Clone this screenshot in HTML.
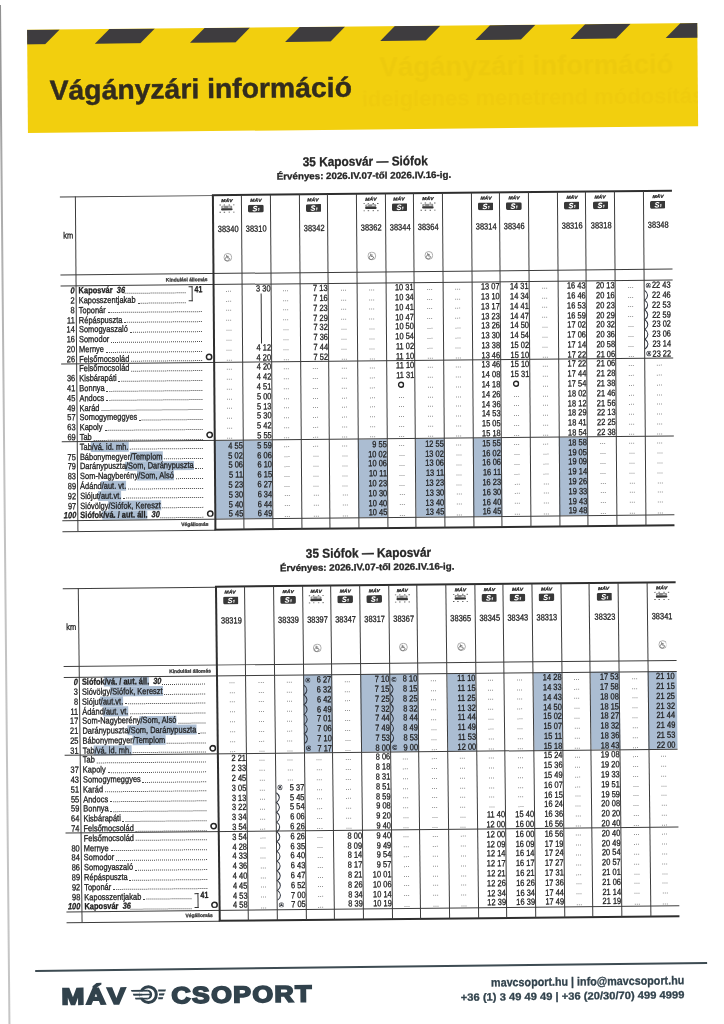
<!DOCTYPE html>
<html lang="hu"><head><meta charset="utf-8"><title>Vágányzári információ</title>
<style>
html,body{margin:0;padding:0;background:#fff}
body{width:724px;height:1024px;position:relative;overflow:hidden;font-family:"Liberation Sans",sans-serif;color:#2b2b2b}
.sec{position:absolute;left:0;top:0;transform-origin:0 0}
svg{position:absolute}
.c0{position:absolute;font-size:27.5px;line-height:33.00px;color:#322c1e;white-space:pre;font-weight:bold;-webkit-text-stroke:0.45px #322c1e;transform:scaleX(1.03);transform-origin:0 50%;}
.c1{position:absolute;font-size:27px;line-height:32.40px;color:rgba(190,140,0,0.07);white-space:pre;font-weight:bold;filter:blur(0.7px);transform:scaleX(1.02);transform-origin:0 50%;}
.c2{position:absolute;font-size:22px;line-height:26.40px;color:rgba(190,140,0,0.06);white-space:pre;font-weight:bold;filter:blur(0.7px);transform:scaleX(1.0);transform-origin:0 50%;}
.c3{position:absolute;background:#333;}
.c4{position:absolute;font-size:9.0px;line-height:10.80px;color:#222;white-space:pre;font-weight:bold;-webkit-text-stroke:0.3px #222;transform:scaleX(0.78);transform-origin:0 50%;}
.c5{position:absolute;background:#abbdd2;}
.c6{position:absolute;font-size:13px;line-height:15.60px;color:#262626;white-space:pre;font-weight:bold;-webkit-text-stroke:0.3px #262626;transform:scaleX(0.912);transform-origin:0 50%;}
.c7{position:absolute;font-size:9.4px;line-height:11.28px;color:#262626;white-space:pre;font-weight:bold;-webkit-text-stroke:0.3px #262626;transform:scaleX(1.04);transform-origin:0 50%;}
.c8{position:absolute;font-size:9.0px;line-height:10.80px;color:#222;white-space:pre;font-weight:bold;font-style:italic;-webkit-text-stroke:0.3px #222;width:100px;text-align:right;transform:scaleX(0.83);transform-origin:100% 50%;}
.c9{position:absolute;font-size:9.0px;line-height:10.80px;color:#222;white-space:pre;font-weight:bold;-webkit-text-stroke:0.3px #222;transform:scaleX(0.83);transform-origin:0 50%;}
.c10{position:absolute;font-size:9.0px;line-height:10.80px;color:#222;white-space:pre;font-weight:bold;font-style:italic;-webkit-text-stroke:0.3px #222;transform:scaleX(0.83);transform-origin:0 50%;}
.c11{position:absolute;font-size:9.0px;line-height:10.80px;color:#222;white-space:pre;-webkit-text-stroke:0.3px #222;width:100px;text-align:right;transform:scaleX(0.83);transform-origin:100% 50%;}
.c12{position:absolute;font-size:9.0px;line-height:10.80px;color:#222;white-space:pre;-webkit-text-stroke:0.3px #222;transform:scaleX(0.83);transform-origin:0 50%;}
.c13{position:absolute;font-size:4.2px;line-height:5.04px;color:#333;white-space:pre;font-weight:bold;font-style:italic;-webkit-text-stroke:0.3px #333;width:100px;text-align:center;transform:scaleX(1.2);transform-origin:50% 50%;}
.c14{position:absolute;font-size:9.0px;line-height:10.80px;color:#222;white-space:pre;-webkit-text-stroke:0.3px #222;width:100px;text-align:center;transform:scaleX(0.83);transform-origin:50% 50%;}
.c15{position:absolute;font-size:9px;line-height:10.80px;color:#6a6a6a;white-space:pre;width:100px;text-align:center;transform:scaleX(0.8);transform-origin:50% 50%;}
.c16{position:absolute;font-size:9px;line-height:10.80px;color:#222;white-space:pre;-webkit-text-stroke:0.3px #222;transform:scaleX(0.83);transform-origin:0 50%;}
.c17{position:absolute;font-size:5.0px;line-height:6.00px;color:#3a3a3a;white-space:pre;font-weight:bold;-webkit-text-stroke:0.3px #3a3a3a;width:400px;text-align:right;transform:scaleX(0.98);transform-origin:100% 50%;}
.c18{position:absolute;font-size:5.0px;line-height:6.00px;color:#3a3a3a;white-space:pre;font-weight:bold;-webkit-text-stroke:0.3px #3a3a3a;width:100px;text-align:right;transform:scaleX(0.98);transform-origin:100% 50%;}
.c19{position:absolute;background:#3c3c3c;}
.c20{position:absolute;background:#2e2e2e;}
.c21{position:absolute;background:#3d4b52;}
.c22{position:absolute;font-size:23px;line-height:27.60px;color:#31424c;white-space:pre;font-weight:bold;letter-spacing:1.2px;-webkit-text-stroke:1.7px #31424c;transform:scaleX(1.2);transform-origin:0 50%;}
.c23{position:absolute;font-size:23px;line-height:27.60px;color:#31424c;white-space:pre;font-weight:bold;letter-spacing:1.2px;-webkit-text-stroke:1.7px #31424c;transform:scaleX(1.157);transform-origin:0 50%;}
.c24{position:absolute;font-size:11.8px;line-height:14.16px;color:#31424c;white-space:pre;font-weight:bold;-webkit-text-stroke:0.3px #31424c;width:400px;text-align:right;transform:scaleX(0.911);transform-origin:100% 50%;}
.c25{position:absolute;font-size:10.5px;line-height:12.60px;color:#31424c;white-space:pre;font-weight:bold;-webkit-text-stroke:0.3px #31424c;width:400px;text-align:right;transform:scaleX(1.064);transform-origin:100% 50%;}
</style></head><body>
<div style="position:absolute;left:-1.2px;top:5px;width:2.4px;height:1030px;transform-origin:50% 0;transform:rotate(-0.53deg);background:linear-gradient(to bottom,#8f8f8f 0,#a8a8a8 15%,#c2c2c2 45%,#c6c6c6 100%);filter:blur(0.4px)"></div>
<div class="sec" style="width:670.0px;height:103.0px;background:#f2cf0e;overflow:hidden;transform:matrix(1.000299,-0.01,0.008737864,1.000971,27.05,29.8)">
<svg width="670.0" height="14.7" viewBox="0 0 670.0 14.7" style="position:absolute;left:0;top:0;display:block" fill="#3e3c3f"><polygon points="-27.8,14.7 -13.1,0.0 32.4,0.0 17.7,14.7"/><polygon points="67.4,14.7 82.1,0.0 127.6,0.0 112.9,14.7"/><polygon points="162.6,14.7 177.3,0.0 222.8,0.0 208.1,14.7"/><polygon points="257.8,14.7 272.5,0.0 318.0,0.0 303.3,14.7"/><polygon points="353.0,14.7 367.7,0.0 413.2,0.0 398.5,14.7"/><polygon points="448.2,14.7 462.9,0.0 508.4,0.0 493.7,14.7"/><polygon points="543.4,14.7 558.1,0.0 603.6,0.0 588.9,14.7"/><polygon points="638.6,14.7 653.3,0.0 698.8,0.0 684.1,14.7"/></svg>
<span class="c0" style="left:22.4px;top:44.37px">Vágányzári információ</span>
<span class="c1" style="left:352px;top:24.94px">Vágányzári információ</span>
<span class="c2" style="left:334px;top:60.18px">ideiglenes menetrend módosítás</span>
</div>
<div class="sec" style="width:612.0px;height:335.4px;transform:matrix(1.000082,-0.009640523,0.007602862,0.9988074,59.875,196.6)">
<div class="c5" style="left:153px;top:245.75px;width:28.69px;height:78.3px"></div>
<div class="c5" style="left:181.69px;top:245.75px;width:28.69px;height:78.3px"></div>
<div class="c5" style="left:296.45px;top:245.75px;width:28.69px;height:78.3px"></div>
<div class="c5" style="left:353.83px;top:245.75px;width:28.69px;height:78.3px"></div>
<div class="c5" style="left:411.21px;top:245.75px;width:28.69px;height:78.3px"></div>
<div class="c5" style="left:497.28px;top:245.75px;width:28.69px;height:78.3px"></div>
<span class="c6" style="left:242.6px;top:-40.3px">35 Kaposvár — Siófok</span>
<span class="c7" style="left:217.3px;top:-23.8px">Érvényes: 2026.IV.07-től 2026.IV.16-ig.</span>
<div class="c3" style="left:127.8px;top:91.3px;width:4.3px;height:0.9px"></div><div class="c3" style="left:131.3px;top:91.3px;width:0.9px;height:14.99px"></div><div class="c3" style="left:127.8px;top:105.39px;width:4.3px;height:0.9px"></div><span class="c4" style="left:133.6px;top:88.88px">41</span>
<span class="c8" style="left:-85.7px;top:89.18px">0</span>
<span class="c9" style="left:17.5px;top:89.18px">Kaposvár</span>
<span class="c10" style="left:51.55px;top:89.18px">  36</span>
<div style="position:absolute;left:64.31px;top:96.80px;width:60.69px;height:0;border-bottom:1px dotted #4a4a4a"></div>
<span class="c11" style="left:-85.7px;top:98.97px">2</span>
<span class="c12" style="left:17.5px;top:98.97px">Kaposszentjakab</span>
<div style="position:absolute;left:76.59px;top:106.59px;width:48.41px;height:0;border-bottom:1px dotted #4a4a4a"></div>
<span class="c11" style="left:-85.7px;top:108.76px">8</span>
<span class="c12" style="left:17.5px;top:108.76px">Toponár</span>
<div style="position:absolute;left:46.70px;top:116.37px;width:94.00px;height:0;border-bottom:1px dotted #4a4a4a"></div>
<span class="c11" style="left:-85.7px;top:118.54px">11</span>
<span class="c12" style="left:17.5px;top:118.54px">Répáspuszta</span>
<div style="position:absolute;left:63.30px;top:126.16px;width:77.40px;height:0;border-bottom:1px dotted #4a4a4a"></div>
<span class="c11" style="left:-85.7px;top:128.33px">14</span>
<span class="c12" style="left:17.5px;top:128.33px">Somogyaszaló</span>
<div style="position:absolute;left:68.70px;top:135.95px;width:72.00px;height:0;border-bottom:1px dotted #4a4a4a"></div>
<span class="c11" style="left:-85.7px;top:138.12px">16</span>
<span class="c12" style="left:17.5px;top:138.12px">Somodor</span>
<div style="position:absolute;left:50.01px;top:145.73px;width:90.69px;height:0;border-bottom:1px dotted #4a4a4a"></div>
<span class="c11" style="left:-85.7px;top:147.9px">20</span>
<span class="c12" style="left:17.5px;top:147.9px">Mernye</span>
<div style="position:absolute;left:44.61px;top:155.52px;width:96.09px;height:0;border-bottom:1px dotted #4a4a4a"></div>
<span class="c11" style="left:-85.7px;top:157.69px">26</span>
<span class="c12" style="left:17.5px;top:157.69px">Felsőmocsolád</span>
<div style="position:absolute;left:69.94px;top:165.31px;width:70.76px;height:0;border-bottom:1px dotted #4a4a4a"></div>
<svg style="position:absolute;left:143.65px;top:157.96px" width="7.90" height="7.90" viewBox="0 0 7.90 7.90"><circle cx="3.95" cy="3.95" r="2.68" fill="none" stroke="#262626" stroke-width="1.55"/></svg>
<span class="c12" style="left:17.5px;top:167.48px">Felsőmocsolád</span>
<div style="position:absolute;left:69.94px;top:175.10px;width:70.76px;height:0;border-bottom:1px dotted #4a4a4a"></div>
<span class="c11" style="left:-85.7px;top:177.26px">36</span>
<span class="c12" style="left:17.5px;top:177.26px">Kisbárapáti</span>
<div style="position:absolute;left:57.07px;top:184.88px;width:83.63px;height:0;border-bottom:1px dotted #4a4a4a"></div>
<span class="c11" style="left:-85.7px;top:187.05px">41</span>
<span class="c12" style="left:17.5px;top:187.05px">Bonnya</span>
<div style="position:absolute;left:45.04px;top:194.67px;width:95.66px;height:0;border-bottom:1px dotted #4a4a4a"></div>
<span class="c11" style="left:-85.7px;top:196.84px">45</span>
<span class="c12" style="left:17.5px;top:196.84px">Andocs</span>
<div style="position:absolute;left:44.62px;top:204.46px;width:96.08px;height:0;border-bottom:1px dotted #4a4a4a"></div>
<span class="c11" style="left:-85.7px;top:206.63px">49</span>
<span class="c12" style="left:17.5px;top:206.63px">Karád</span>
<div style="position:absolute;left:39.63px;top:214.24px;width:101.07px;height:0;border-bottom:1px dotted #4a4a4a"></div>
<span class="c11" style="left:-85.7px;top:216.41px">57</span>
<span class="c12" style="left:17.5px;top:216.41px">Somogymeggyes</span>
<div style="position:absolute;left:77.42px;top:224.03px;width:63.28px;height:0;border-bottom:1px dotted #4a4a4a"></div>
<span class="c11" style="left:-85.7px;top:226.2px">63</span>
<span class="c12" style="left:17.5px;top:226.2px">Kapoly</span>
<div style="position:absolute;left:42.54px;top:233.82px;width:98.16px;height:0;border-bottom:1px dotted #4a4a4a"></div>
<span class="c11" style="left:-85.7px;top:235.99px">69</span>
<span class="c12" style="left:17.5px;top:235.99px">Tab</span>
<div style="position:absolute;left:31.74px;top:243.60px;width:108.96px;height:0;border-bottom:1px dotted #4a4a4a"></div>
<svg style="position:absolute;left:143.65px;top:236.25px" width="7.90" height="7.90" viewBox="0 0 7.90 7.90"><circle cx="3.95" cy="3.95" r="2.68" fill="none" stroke="#262626" stroke-width="1.55"/></svg>
<div class="c5" style="left:29.34px;top:246.06px;width:37.33px;height:9.79px"></div>
<span class="c12" style="left:17.5px;top:245.77px">Tab/vá. id. mh.</span>
<div style="position:absolute;left:68.28px;top:253.39px;width:72.42px;height:0;border-bottom:1px dotted #4a4a4a"></div>
<span class="c11" style="left:-85.7px;top:255.56px">75</span>
<div class="c5" style="left:67.55px;top:255.84px;width:33.18px;height:9.79px"></div>
<span class="c12" style="left:17.5px;top:255.56px">Bábonymegyer/Templom</span>
<div style="position:absolute;left:102.33px;top:263.18px;width:38.37px;height:0;border-bottom:1px dotted #4a4a4a"></div>
<span class="c11" style="left:-85.7px;top:265.35px">79</span>
<div class="c5" style="left:63.39px;top:265.63px;width:68.48px;height:9.79px"></div>
<span class="c12" style="left:17.5px;top:265.35px">Daránypuszta/Som, Daránypuszta</span>
<div style="position:absolute;left:133.47px;top:272.97px;width:7.23px;height:0;border-bottom:1px dotted #4a4a4a"></div>
<span class="c11" style="left:-85.7px;top:275.13px">83</span>
<div class="c5" style="left:75.43px;top:275.42px;width:36.51px;height:9.79px"></div>
<span class="c12" style="left:17.5px;top:275.13px">Som-Nagyberény/Som, Alsó</span>
<div style="position:absolute;left:113.53px;top:282.75px;width:27.17px;height:0;border-bottom:1px dotted #4a4a4a"></div>
<span class="c11" style="left:-85.7px;top:284.92px">89</span>
<div class="c5" style="left:38.9px;top:285.2px;width:25.3px;height:9.79px"></div>
<span class="c12" style="left:17.5px;top:284.92px">Ádánd/aut. vt.</span>
<div style="position:absolute;left:65.80px;top:292.54px;width:74.90px;height:0;border-bottom:1px dotted #4a4a4a"></div>
<span class="c11" style="left:-85.7px;top:294.71px">92</span>
<div class="c5" style="left:35.99px;top:294.99px;width:23.22px;height:9.79px"></div>
<span class="c12" style="left:17.5px;top:294.71px">Siójut/aut.vt.</span>
<div style="position:absolute;left:60.81px;top:302.33px;width:79.89px;height:0;border-bottom:1px dotted #4a4a4a"></div>
<span class="c11" style="left:-85.7px;top:304.5px">97</span>
<div class="c5" style="left:45.54px;top:304.78px;width:53.11px;height:9.79px"></div>
<span class="c12" style="left:17.5px;top:304.5px">Sióvölgy/Siófok, Kereszt</span>
<div style="position:absolute;left:100.25px;top:312.11px;width:40.45px;height:0;border-bottom:1px dotted #4a4a4a"></div>
<span class="c8" style="left:-85.7px;top:314.28px">100</span>
<div class="c5" style="left:40.13px;top:314.56px;width:45.22px;height:9.79px"></div>
<span class="c9" style="left:17.5px;top:314.28px">Siófok/vá. / aut. áll.</span>
<span class="c10" style="left:84.75px;top:314.28px">  30</span>
<div style="position:absolute;left:97.51px;top:321.90px;width:43.19px;height:0;border-bottom:1px dotted #4a4a4a"></div>
<svg style="position:absolute;left:143.65px;top:314.55px" width="7.90" height="7.90" viewBox="0 0 7.90 7.90"><circle cx="3.95" cy="3.95" r="2.68" fill="none" stroke="#262626" stroke-width="1.55"/></svg>
<span class="c13" style="left:117.34px;top:2.77px">MÁV</span>
<svg style="left:159.34px;top:9.4px" width="16" height="9" viewBox="0 0 16 9"><g fill="#5a5a5a"><rect x="0.5" y="0.55" width="1.4" height="0.9"/><rect x="4.7" y="0.55" width="1.4" height="0.9"/><rect x="9.6" y="0.55" width="1.4" height="0.9"/><rect x="14.1" y="0.55" width="1.4" height="0.9"/><rect x="0.5" y="7.75" width="1.4" height="0.9"/><rect x="4.7" y="7.75" width="1.4" height="0.9"/><rect x="9.6" y="7.75" width="1.4" height="0.9"/><rect x="14.1" y="7.75" width="1.4" height="0.9"/></g><rect x="2.3" y="1.8" width="10.9" height="2.6" rx="0.9" fill="#8c8c8c"/><rect x="3.6" y="2.5" width="1.6" height="1.2" fill="#e4e4e4"/><rect x="9.0" y="2.5" width="2.6" height="1.2" fill="#d8d8d8"/><rect x="2.1" y="4.2" width="11.5" height="2.2" rx="1.0" fill="#383838"/></svg>
<svg style="left:163.2px;top:58.35px" width="8.9" height="8.9" viewBox="0 0 8.4 8.4"><circle cx="4.2" cy="4.2" r="3.7" fill="none" stroke="#808080" stroke-width="0.6"/><path d="M3.1 2.0 L3.3 4.6 L5.2 4.6 L6.1 6.3 M3.3 3.3 L5 3.3" fill="none" stroke="#6a6a6a" stroke-width="0.8"/><path d="M2.9 3.9 A1.9 1.9 0 1 0 5.4 6.0" fill="none" stroke="#6a6a6a" stroke-width="0.7"/></svg>
<span class="c14" style="left:117.54px;top:29.18px">38340</span>
<span class="c15" style="left:117.94px;top:88.88px">...</span>
<span class="c15" style="left:117.94px;top:98.67px">...</span>
<span class="c15" style="left:117.94px;top:108.46px">...</span>
<span class="c15" style="left:117.94px;top:118.24px">...</span>
<span class="c15" style="left:117.94px;top:128.03px">...</span>
<span class="c15" style="left:117.94px;top:137.82px">...</span>
<span class="c15" style="left:117.94px;top:147.6px">...</span>
<span class="c15" style="left:117.94px;top:158.19px">...</span>
<span class="c15" style="left:117.94px;top:167.18px">...</span>
<span class="c15" style="left:117.94px;top:176.96px">...</span>
<span class="c15" style="left:117.94px;top:186.75px">...</span>
<span class="c15" style="left:117.94px;top:196.54px">...</span>
<span class="c15" style="left:117.94px;top:206.33px">...</span>
<span class="c15" style="left:117.94px;top:216.11px">...</span>
<span class="c15" style="left:117.94px;top:225.9px">...</span>
<span class="c15" style="left:117.94px;top:236.49px">...</span>
<span class="c11" style="left:81.19px;top:245.77px">4 55</span>
<span class="c11" style="left:81.19px;top:255.56px">5 02</span>
<span class="c11" style="left:81.19px;top:265.35px">5 06</span>
<span class="c11" style="left:81.19px;top:275.13px">5 11</span>
<span class="c11" style="left:81.19px;top:284.92px">5 23</span>
<span class="c11" style="left:81.19px;top:294.71px">5 30</span>
<span class="c11" style="left:81.19px;top:304.5px">5 40</span>
<span class="c11" style="left:81.19px;top:314.28px">5 45</span>
<span class="c13" style="left:146.03px;top:2.77px">MÁV</span>
<svg style="left:188.23px;top:10px" width="15.6" height="7.8" viewBox="0 0 15.6 7.8"><rect width="15.6" height="7.8" rx="1.5" fill="#383838"/><g transform="skewX(-12)" fill="none" stroke="#fff"><path d="M9.6 2.55 C8.9 1.3 6.2 1.45 6.3 2.9 C6.4 4.3 9.7 3.6 9.7 5.1 C9.7 6.6 6.6 6.6 6.0 5.2" stroke-width="1.15"/><path d="M10.9 4.3 L11.9 3.6 V6.3" stroke-width="0.8"/></g></svg>
<span class="c14" style="left:146.23px;top:29.18px">38310</span>
<span class="c11" style="left:109.88px;top:89.18px">3 30</span>
<span class="c11" style="left:109.88px;top:147.9px">4 12</span>
<span class="c11" style="left:109.88px;top:157.69px">4 20</span>
<span class="c11" style="left:109.88px;top:167.48px">4 20</span>
<span class="c11" style="left:109.88px;top:177.26px">4 42</span>
<span class="c11" style="left:109.88px;top:187.05px">4 51</span>
<span class="c11" style="left:109.88px;top:196.84px">5 00</span>
<span class="c11" style="left:109.88px;top:206.63px">5 13</span>
<span class="c11" style="left:109.88px;top:216.41px">5 30</span>
<span class="c11" style="left:109.88px;top:226.2px">5 42</span>
<span class="c11" style="left:109.88px;top:235.99px">5 55</span>
<span class="c11" style="left:109.88px;top:245.77px">5 59</span>
<span class="c11" style="left:109.88px;top:255.56px">6 06</span>
<span class="c11" style="left:109.88px;top:265.35px">6 10</span>
<span class="c11" style="left:109.88px;top:275.13px">6 15</span>
<span class="c11" style="left:109.88px;top:284.92px">6 27</span>
<span class="c11" style="left:109.88px;top:294.71px">6 34</span>
<span class="c11" style="left:109.88px;top:304.5px">6 44</span>
<span class="c11" style="left:109.88px;top:314.28px">6 49</span>
<div class="c3" style="left:199.84px;top:98.7px;width:0.9px;height:50.72px"></div>
<span class="c15" style="left:175.32px;top:88.88px">...</span>
<span class="c15" style="left:175.32px;top:98.67px">...</span>
<span class="c15" style="left:175.32px;top:108.46px">...</span>
<span class="c15" style="left:175.32px;top:118.24px">...</span>
<span class="c15" style="left:175.32px;top:128.03px">...</span>
<span class="c15" style="left:175.32px;top:137.82px">...</span>
<span class="c15" style="left:175.32px;top:147.6px">...</span>
<span class="c15" style="left:175.32px;top:158.19px">...</span>
<span class="c15" style="left:175.32px;top:167.18px">...</span>
<span class="c15" style="left:175.32px;top:176.96px">...</span>
<span class="c15" style="left:175.32px;top:186.75px">...</span>
<span class="c15" style="left:175.32px;top:196.54px">...</span>
<span class="c15" style="left:175.32px;top:206.33px">...</span>
<span class="c15" style="left:175.32px;top:216.11px">...</span>
<span class="c15" style="left:175.32px;top:225.9px">...</span>
<span class="c15" style="left:175.32px;top:236.49px">...</span>
<span class="c15" style="left:175.32px;top:245.47px">...</span>
<span class="c15" style="left:175.32px;top:255.26px">...</span>
<span class="c15" style="left:175.32px;top:265.05px">...</span>
<span class="c15" style="left:175.32px;top:274.83px">...</span>
<span class="c15" style="left:175.32px;top:284.62px">...</span>
<span class="c15" style="left:175.32px;top:294.41px">...</span>
<span class="c15" style="left:175.32px;top:304.2px">...</span>
<span class="c15" style="left:175.32px;top:314.78px">...</span>
<span class="c13" style="left:203.41px;top:2.77px">MÁV</span>
<svg style="left:245.61px;top:10px" width="15.6" height="7.8" viewBox="0 0 15.6 7.8"><rect width="15.6" height="7.8" rx="1.5" fill="#383838"/><g transform="skewX(-12)" fill="none" stroke="#fff"><path d="M9.6 2.55 C8.9 1.3 6.2 1.45 6.3 2.9 C6.4 4.3 9.7 3.6 9.7 5.1 C9.7 6.6 6.6 6.6 6.0 5.2" stroke-width="1.15"/><path d="M10.9 4.3 L11.9 3.6 V6.3" stroke-width="0.8"/></g></svg>
<span class="c14" style="left:203.61px;top:29.18px">38342</span>
<span class="c11" style="left:167.26px;top:89.18px">7 13</span>
<span class="c11" style="left:167.26px;top:98.97px">7 16</span>
<span class="c11" style="left:167.26px;top:108.76px">7 23</span>
<span class="c11" style="left:167.26px;top:118.54px">7 29</span>
<span class="c11" style="left:167.26px;top:128.33px">7 32</span>
<span class="c11" style="left:167.26px;top:138.12px">7 36</span>
<span class="c11" style="left:167.26px;top:147.9px">7 44</span>
<span class="c11" style="left:167.26px;top:157.69px">7 52</span>
<span class="c15" style="left:204.01px;top:167.18px">...</span>
<span class="c15" style="left:204.01px;top:176.96px">...</span>
<span class="c15" style="left:204.01px;top:186.75px">...</span>
<span class="c15" style="left:204.01px;top:196.54px">...</span>
<span class="c15" style="left:204.01px;top:206.33px">...</span>
<span class="c15" style="left:204.01px;top:216.11px">...</span>
<span class="c15" style="left:204.01px;top:225.9px">...</span>
<span class="c15" style="left:204.01px;top:236.49px">...</span>
<span class="c15" style="left:204.01px;top:245.47px">...</span>
<span class="c15" style="left:204.01px;top:255.26px">...</span>
<span class="c15" style="left:204.01px;top:265.05px">...</span>
<span class="c15" style="left:204.01px;top:274.83px">...</span>
<span class="c15" style="left:204.01px;top:284.62px">...</span>
<span class="c15" style="left:204.01px;top:294.41px">...</span>
<span class="c15" style="left:204.01px;top:304.2px">...</span>
<span class="c15" style="left:204.01px;top:314.78px">...</span>
<span class="c15" style="left:232.71px;top:88.88px">...</span>
<span class="c15" style="left:232.71px;top:98.67px">...</span>
<span class="c15" style="left:232.71px;top:108.46px">...</span>
<span class="c15" style="left:232.71px;top:118.24px">...</span>
<span class="c15" style="left:232.71px;top:128.03px">...</span>
<span class="c15" style="left:232.71px;top:137.82px">...</span>
<span class="c15" style="left:232.71px;top:147.6px">...</span>
<span class="c15" style="left:232.71px;top:158.19px">...</span>
<span class="c15" style="left:232.71px;top:167.18px">...</span>
<span class="c15" style="left:232.71px;top:176.96px">...</span>
<span class="c15" style="left:232.71px;top:186.75px">...</span>
<span class="c15" style="left:232.71px;top:196.54px">...</span>
<span class="c15" style="left:232.71px;top:206.33px">...</span>
<span class="c15" style="left:232.71px;top:216.11px">...</span>
<span class="c15" style="left:232.71px;top:225.9px">...</span>
<span class="c15" style="left:232.71px;top:236.49px">...</span>
<span class="c15" style="left:232.71px;top:245.47px">...</span>
<span class="c15" style="left:232.71px;top:255.26px">...</span>
<span class="c15" style="left:232.71px;top:265.05px">...</span>
<span class="c15" style="left:232.71px;top:274.83px">...</span>
<span class="c15" style="left:232.71px;top:284.62px">...</span>
<span class="c15" style="left:232.71px;top:294.41px">...</span>
<span class="c15" style="left:232.71px;top:304.2px">...</span>
<span class="c15" style="left:232.71px;top:314.78px">...</span>
<span class="c13" style="left:260.8px;top:2.77px">MÁV</span>
<svg style="left:302.8px;top:9.4px" width="16" height="9" viewBox="0 0 16 9"><g fill="#5a5a5a"><rect x="0.5" y="0.55" width="1.4" height="0.9"/><rect x="4.7" y="0.55" width="1.4" height="0.9"/><rect x="9.6" y="0.55" width="1.4" height="0.9"/><rect x="14.1" y="0.55" width="1.4" height="0.9"/><rect x="0.5" y="7.75" width="1.4" height="0.9"/><rect x="4.7" y="7.75" width="1.4" height="0.9"/><rect x="9.6" y="7.75" width="1.4" height="0.9"/><rect x="14.1" y="7.75" width="1.4" height="0.9"/></g><rect x="2.3" y="1.8" width="10.9" height="2.6" rx="0.9" fill="#8c8c8c"/><rect x="3.6" y="2.5" width="1.6" height="1.2" fill="#e4e4e4"/><rect x="9.0" y="2.5" width="2.6" height="1.2" fill="#d8d8d8"/><rect x="2.1" y="4.2" width="11.5" height="2.2" rx="1.0" fill="#383838"/></svg>
<svg style="left:306.65px;top:58.35px" width="8.9" height="8.9" viewBox="0 0 8.4 8.4"><circle cx="4.2" cy="4.2" r="3.7" fill="none" stroke="#808080" stroke-width="0.6"/><path d="M3.1 2.0 L3.3 4.6 L5.2 4.6 L6.1 6.3 M3.3 3.3 L5 3.3" fill="none" stroke="#6a6a6a" stroke-width="0.8"/><path d="M2.9 3.9 A1.9 1.9 0 1 0 5.4 6.0" fill="none" stroke="#6a6a6a" stroke-width="0.7"/></svg>
<span class="c14" style="left:261px;top:29.18px">38362</span>
<span class="c15" style="left:261.4px;top:88.88px">...</span>
<span class="c15" style="left:261.4px;top:98.67px">...</span>
<span class="c15" style="left:261.4px;top:108.46px">...</span>
<span class="c15" style="left:261.4px;top:118.24px">...</span>
<span class="c15" style="left:261.4px;top:128.03px">...</span>
<span class="c15" style="left:261.4px;top:137.82px">...</span>
<span class="c15" style="left:261.4px;top:147.6px">...</span>
<span class="c15" style="left:261.4px;top:158.19px">...</span>
<span class="c15" style="left:261.4px;top:167.18px">...</span>
<span class="c15" style="left:261.4px;top:176.96px">...</span>
<span class="c15" style="left:261.4px;top:186.75px">...</span>
<span class="c15" style="left:261.4px;top:196.54px">...</span>
<span class="c15" style="left:261.4px;top:206.33px">...</span>
<span class="c15" style="left:261.4px;top:216.11px">...</span>
<span class="c15" style="left:261.4px;top:225.9px">...</span>
<span class="c15" style="left:261.4px;top:236.49px">...</span>
<span class="c11" style="left:224.64px;top:245.77px">9 55</span>
<span class="c11" style="left:224.64px;top:255.56px">10 02</span>
<span class="c11" style="left:224.64px;top:265.35px">10 06</span>
<span class="c11" style="left:224.64px;top:275.13px">10 11</span>
<span class="c11" style="left:224.64px;top:284.92px">10 23</span>
<span class="c11" style="left:224.64px;top:294.71px">10 30</span>
<span class="c11" style="left:224.64px;top:304.5px">10 40</span>
<span class="c11" style="left:224.64px;top:314.28px">10 45</span>
<span class="c13" style="left:289.49px;top:2.77px">MÁV</span>
<svg style="left:331.69px;top:10px" width="15.6" height="7.8" viewBox="0 0 15.6 7.8"><rect width="15.6" height="7.8" rx="1.5" fill="#383838"/><g transform="skewX(-12)" fill="none" stroke="#fff"><path d="M9.6 2.55 C8.9 1.3 6.2 1.45 6.3 2.9 C6.4 4.3 9.7 3.6 9.7 5.1 C9.7 6.6 6.6 6.6 6.0 5.2" stroke-width="1.15"/><path d="M10.9 4.3 L11.9 3.6 V6.3" stroke-width="0.8"/></g></svg>
<span class="c14" style="left:289.69px;top:29.18px">38344</span>
<span class="c11" style="left:253.33px;top:89.18px">10 31</span>
<span class="c11" style="left:253.33px;top:98.97px">10 34</span>
<span class="c11" style="left:253.33px;top:108.76px">10 41</span>
<span class="c11" style="left:253.33px;top:118.54px">10 47</span>
<span class="c11" style="left:253.33px;top:128.33px">10 50</span>
<span class="c11" style="left:253.33px;top:138.12px">10 54</span>
<span class="c11" style="left:253.33px;top:147.9px">11 02</span>
<span class="c11" style="left:253.33px;top:157.69px">11 10</span>
<span class="c11" style="left:253.33px;top:167.48px">11 10</span>
<span class="c11" style="left:253.33px;top:177.26px">11 31</span>
<svg style="position:absolute;left:336.09px;top:187.67px" width="7.40" height="7.40" viewBox="0 0 7.40 7.40"><circle cx="3.70" cy="3.70" r="2.50" fill="none" stroke="#262626" stroke-width="1.4"/></svg>
<span class="c15" style="left:290.09px;top:196.54px">...</span>
<span class="c15" style="left:290.09px;top:206.33px">...</span>
<span class="c15" style="left:290.09px;top:216.11px">...</span>
<span class="c15" style="left:290.09px;top:225.9px">...</span>
<span class="c15" style="left:290.09px;top:236.49px">...</span>
<span class="c15" style="left:290.09px;top:245.47px">...</span>
<span class="c15" style="left:290.09px;top:255.26px">...</span>
<span class="c15" style="left:290.09px;top:265.05px">...</span>
<span class="c15" style="left:290.09px;top:274.83px">...</span>
<span class="c15" style="left:290.09px;top:284.62px">...</span>
<span class="c15" style="left:290.09px;top:294.41px">...</span>
<span class="c15" style="left:290.09px;top:304.2px">...</span>
<span class="c15" style="left:290.09px;top:314.78px">...</span>
<span class="c13" style="left:318.18px;top:2.77px">MÁV</span>
<svg style="left:360.18px;top:9.4px" width="16" height="9" viewBox="0 0 16 9"><g fill="#5a5a5a"><rect x="0.5" y="0.55" width="1.4" height="0.9"/><rect x="4.7" y="0.55" width="1.4" height="0.9"/><rect x="9.6" y="0.55" width="1.4" height="0.9"/><rect x="14.1" y="0.55" width="1.4" height="0.9"/><rect x="0.5" y="7.75" width="1.4" height="0.9"/><rect x="4.7" y="7.75" width="1.4" height="0.9"/><rect x="9.6" y="7.75" width="1.4" height="0.9"/><rect x="14.1" y="7.75" width="1.4" height="0.9"/></g><rect x="2.3" y="1.8" width="10.9" height="2.6" rx="0.9" fill="#8c8c8c"/><rect x="3.6" y="2.5" width="1.6" height="1.2" fill="#e4e4e4"/><rect x="9.0" y="2.5" width="2.6" height="1.2" fill="#d8d8d8"/><rect x="2.1" y="4.2" width="11.5" height="2.2" rx="1.0" fill="#383838"/></svg>
<svg style="left:364.03px;top:58.35px" width="8.9" height="8.9" viewBox="0 0 8.4 8.4"><circle cx="4.2" cy="4.2" r="3.7" fill="none" stroke="#808080" stroke-width="0.6"/><path d="M3.1 2.0 L3.3 4.6 L5.2 4.6 L6.1 6.3 M3.3 3.3 L5 3.3" fill="none" stroke="#6a6a6a" stroke-width="0.8"/><path d="M2.9 3.9 A1.9 1.9 0 1 0 5.4 6.0" fill="none" stroke="#6a6a6a" stroke-width="0.7"/></svg>
<span class="c14" style="left:318.38px;top:29.18px">38364</span>
<span class="c15" style="left:318.78px;top:88.88px">...</span>
<span class="c15" style="left:318.78px;top:98.67px">...</span>
<span class="c15" style="left:318.78px;top:108.46px">...</span>
<span class="c15" style="left:318.78px;top:118.24px">...</span>
<span class="c15" style="left:318.78px;top:128.03px">...</span>
<span class="c15" style="left:318.78px;top:137.82px">...</span>
<span class="c15" style="left:318.78px;top:147.6px">...</span>
<span class="c15" style="left:318.78px;top:158.19px">...</span>
<span class="c15" style="left:318.78px;top:167.18px">...</span>
<span class="c15" style="left:318.78px;top:176.96px">...</span>
<span class="c15" style="left:318.78px;top:186.75px">...</span>
<span class="c15" style="left:318.78px;top:196.54px">...</span>
<span class="c15" style="left:318.78px;top:206.33px">...</span>
<span class="c15" style="left:318.78px;top:216.11px">...</span>
<span class="c15" style="left:318.78px;top:225.9px">...</span>
<span class="c15" style="left:318.78px;top:236.49px">...</span>
<span class="c11" style="left:282.02px;top:245.77px">12 55</span>
<span class="c11" style="left:282.02px;top:255.56px">13 02</span>
<span class="c11" style="left:282.02px;top:265.35px">13 06</span>
<span class="c11" style="left:282.02px;top:275.13px">13 11</span>
<span class="c11" style="left:282.02px;top:284.92px">13 23</span>
<span class="c11" style="left:282.02px;top:294.71px">13 30</span>
<span class="c11" style="left:282.02px;top:304.5px">13 40</span>
<span class="c11" style="left:282.02px;top:314.28px">13 45</span>
<span class="c15" style="left:347.47px;top:88.88px">...</span>
<span class="c15" style="left:347.47px;top:98.67px">...</span>
<span class="c15" style="left:347.47px;top:108.46px">...</span>
<span class="c15" style="left:347.47px;top:118.24px">...</span>
<span class="c15" style="left:347.47px;top:128.03px">...</span>
<span class="c15" style="left:347.47px;top:137.82px">...</span>
<span class="c15" style="left:347.47px;top:147.6px">...</span>
<span class="c15" style="left:347.47px;top:158.19px">...</span>
<span class="c15" style="left:347.47px;top:167.18px">...</span>
<span class="c15" style="left:347.47px;top:176.96px">...</span>
<span class="c15" style="left:347.47px;top:186.75px">...</span>
<span class="c15" style="left:347.47px;top:196.54px">...</span>
<span class="c15" style="left:347.47px;top:206.33px">...</span>
<span class="c15" style="left:347.47px;top:216.11px">...</span>
<span class="c15" style="left:347.47px;top:225.9px">...</span>
<span class="c15" style="left:347.47px;top:236.49px">...</span>
<span class="c15" style="left:347.47px;top:245.47px">...</span>
<span class="c15" style="left:347.47px;top:255.26px">...</span>
<span class="c15" style="left:347.47px;top:265.05px">...</span>
<span class="c15" style="left:347.47px;top:274.83px">...</span>
<span class="c15" style="left:347.47px;top:284.62px">...</span>
<span class="c15" style="left:347.47px;top:294.41px">...</span>
<span class="c15" style="left:347.47px;top:304.2px">...</span>
<span class="c15" style="left:347.47px;top:314.78px">...</span>
<span class="c13" style="left:375.56px;top:2.77px">MÁV</span>
<svg style="left:417.76px;top:10px" width="15.6" height="7.8" viewBox="0 0 15.6 7.8"><rect width="15.6" height="7.8" rx="1.5" fill="#383838"/><g transform="skewX(-12)" fill="none" stroke="#fff"><path d="M9.6 2.55 C8.9 1.3 6.2 1.45 6.3 2.9 C6.4 4.3 9.7 3.6 9.7 5.1 C9.7 6.6 6.6 6.6 6.0 5.2" stroke-width="1.15"/><path d="M10.9 4.3 L11.9 3.6 V6.3" stroke-width="0.8"/></g></svg>
<span class="c14" style="left:375.76px;top:29.18px">38314</span>
<span class="c11" style="left:339.4px;top:89.18px">13 07</span>
<span class="c11" style="left:339.4px;top:98.97px">13 10</span>
<span class="c11" style="left:339.4px;top:108.76px">13 17</span>
<span class="c11" style="left:339.4px;top:118.54px">13 23</span>
<span class="c11" style="left:339.4px;top:128.33px">13 26</span>
<span class="c11" style="left:339.4px;top:138.12px">13 30</span>
<span class="c11" style="left:339.4px;top:147.9px">13 38</span>
<span class="c11" style="left:339.4px;top:157.69px">13 46</span>
<span class="c11" style="left:339.4px;top:167.48px">13 46</span>
<span class="c11" style="left:339.4px;top:177.26px">14 08</span>
<span class="c11" style="left:339.4px;top:187.05px">14 18</span>
<span class="c11" style="left:339.4px;top:196.84px">14 26</span>
<span class="c11" style="left:339.4px;top:206.63px">14 36</span>
<span class="c11" style="left:339.4px;top:216.41px">14 53</span>
<span class="c11" style="left:339.4px;top:226.2px">15 05</span>
<span class="c11" style="left:339.4px;top:235.99px">15 18</span>
<span class="c11" style="left:339.4px;top:245.77px">15 55</span>
<span class="c11" style="left:339.4px;top:255.56px">16 02</span>
<span class="c11" style="left:339.4px;top:265.35px">16 06</span>
<span class="c11" style="left:339.4px;top:275.13px">16 11</span>
<span class="c11" style="left:339.4px;top:284.92px">16 23</span>
<span class="c11" style="left:339.4px;top:294.71px">16 30</span>
<span class="c11" style="left:339.4px;top:304.5px">16 40</span>
<span class="c11" style="left:339.4px;top:314.28px">16 45</span>
<span class="c13" style="left:404.25px;top:2.77px">MÁV</span>
<svg style="left:446.44px;top:10px" width="15.6" height="7.8" viewBox="0 0 15.6 7.8"><rect width="15.6" height="7.8" rx="1.5" fill="#383838"/><g transform="skewX(-12)" fill="none" stroke="#fff"><path d="M9.6 2.55 C8.9 1.3 6.2 1.45 6.3 2.9 C6.4 4.3 9.7 3.6 9.7 5.1 C9.7 6.6 6.6 6.6 6.0 5.2" stroke-width="1.15"/><path d="M10.9 4.3 L11.9 3.6 V6.3" stroke-width="0.8"/></g></svg>
<span class="c14" style="left:404.44px;top:29.18px">38346</span>
<span class="c11" style="left:368.09px;top:89.18px">14 31</span>
<span class="c11" style="left:368.09px;top:98.97px">14 34</span>
<span class="c11" style="left:368.09px;top:108.76px">14 41</span>
<span class="c11" style="left:368.09px;top:118.54px">14 47</span>
<span class="c11" style="left:368.09px;top:128.33px">14 50</span>
<span class="c11" style="left:368.09px;top:138.12px">14 54</span>
<span class="c11" style="left:368.09px;top:147.9px">15 02</span>
<span class="c11" style="left:368.09px;top:157.69px">15 10</span>
<span class="c11" style="left:368.09px;top:167.48px">15 10</span>
<span class="c11" style="left:368.09px;top:177.26px">15 31</span>
<svg style="position:absolute;left:450.85px;top:187.67px" width="7.40" height="7.40" viewBox="0 0 7.40 7.40"><circle cx="3.70" cy="3.70" r="2.50" fill="none" stroke="#262626" stroke-width="1.4"/></svg>
<span class="c15" style="left:404.85px;top:196.54px">...</span>
<span class="c15" style="left:404.85px;top:206.33px">...</span>
<span class="c15" style="left:404.85px;top:216.11px">...</span>
<span class="c15" style="left:404.85px;top:225.9px">...</span>
<span class="c15" style="left:404.85px;top:236.49px">...</span>
<span class="c15" style="left:404.85px;top:245.47px">...</span>
<span class="c15" style="left:404.85px;top:255.26px">...</span>
<span class="c15" style="left:404.85px;top:265.05px">...</span>
<span class="c15" style="left:404.85px;top:274.83px">...</span>
<span class="c15" style="left:404.85px;top:284.62px">...</span>
<span class="c15" style="left:404.85px;top:294.41px">...</span>
<span class="c15" style="left:404.85px;top:304.2px">...</span>
<span class="c15" style="left:404.85px;top:314.78px">...</span>
<span class="c15" style="left:433.54px;top:88.88px">...</span>
<span class="c15" style="left:433.54px;top:98.67px">...</span>
<span class="c15" style="left:433.54px;top:108.46px">...</span>
<span class="c15" style="left:433.54px;top:118.24px">...</span>
<span class="c15" style="left:433.54px;top:128.03px">...</span>
<span class="c15" style="left:433.54px;top:137.82px">...</span>
<span class="c15" style="left:433.54px;top:147.6px">...</span>
<span class="c15" style="left:433.54px;top:158.19px">...</span>
<span class="c15" style="left:433.54px;top:167.18px">...</span>
<span class="c15" style="left:433.54px;top:176.96px">...</span>
<span class="c15" style="left:433.54px;top:186.75px">...</span>
<span class="c15" style="left:433.54px;top:196.54px">...</span>
<span class="c15" style="left:433.54px;top:206.33px">...</span>
<span class="c15" style="left:433.54px;top:216.11px">...</span>
<span class="c15" style="left:433.54px;top:225.9px">...</span>
<span class="c15" style="left:433.54px;top:236.49px">...</span>
<span class="c15" style="left:433.54px;top:245.47px">...</span>
<span class="c15" style="left:433.54px;top:255.26px">...</span>
<span class="c15" style="left:433.54px;top:265.05px">...</span>
<span class="c15" style="left:433.54px;top:274.83px">...</span>
<span class="c15" style="left:433.54px;top:284.62px">...</span>
<span class="c15" style="left:433.54px;top:294.41px">...</span>
<span class="c15" style="left:433.54px;top:304.2px">...</span>
<span class="c15" style="left:433.54px;top:314.78px">...</span>
<span class="c13" style="left:461.62px;top:2.77px">MÁV</span>
<svg style="left:503.82px;top:10px" width="15.6" height="7.8" viewBox="0 0 15.6 7.8"><rect width="15.6" height="7.8" rx="1.5" fill="#383838"/><g transform="skewX(-12)" fill="none" stroke="#fff"><path d="M9.6 2.55 C8.9 1.3 6.2 1.45 6.3 2.9 C6.4 4.3 9.7 3.6 9.7 5.1 C9.7 6.6 6.6 6.6 6.0 5.2" stroke-width="1.15"/><path d="M10.9 4.3 L11.9 3.6 V6.3" stroke-width="0.8"/></g></svg>
<span class="c14" style="left:461.82px;top:29.18px">38316</span>
<span class="c11" style="left:425.47px;top:89.18px">16 43</span>
<span class="c11" style="left:425.47px;top:98.97px">16 46</span>
<span class="c11" style="left:425.47px;top:108.76px">16 53</span>
<span class="c11" style="left:425.47px;top:118.54px">16 59</span>
<span class="c11" style="left:425.47px;top:128.33px">17 02</span>
<span class="c11" style="left:425.47px;top:138.12px">17 06</span>
<span class="c11" style="left:425.47px;top:147.9px">17 14</span>
<span class="c11" style="left:425.47px;top:157.69px">17 22</span>
<span class="c11" style="left:425.47px;top:167.48px">17 22</span>
<span class="c11" style="left:425.47px;top:177.26px">17 44</span>
<span class="c11" style="left:425.47px;top:187.05px">17 54</span>
<span class="c11" style="left:425.47px;top:196.84px">18 02</span>
<span class="c11" style="left:425.47px;top:206.63px">18 12</span>
<span class="c11" style="left:425.47px;top:216.41px">18 29</span>
<span class="c11" style="left:425.47px;top:226.2px">18 41</span>
<span class="c11" style="left:425.47px;top:235.99px">18 54</span>
<span class="c11" style="left:425.47px;top:245.77px">18 58</span>
<span class="c11" style="left:425.47px;top:255.56px">19 05</span>
<span class="c11" style="left:425.47px;top:265.35px">19 09</span>
<span class="c11" style="left:425.47px;top:275.13px">19 14</span>
<span class="c11" style="left:425.47px;top:284.92px">19 26</span>
<span class="c11" style="left:425.47px;top:294.71px">19 33</span>
<span class="c11" style="left:425.47px;top:304.5px">19 43</span>
<span class="c11" style="left:425.47px;top:314.28px">19 48</span>
<span class="c13" style="left:490.32px;top:2.77px">MÁV</span>
<svg style="left:532.52px;top:10px" width="15.6" height="7.8" viewBox="0 0 15.6 7.8"><rect width="15.6" height="7.8" rx="1.5" fill="#383838"/><g transform="skewX(-12)" fill="none" stroke="#fff"><path d="M9.6 2.55 C8.9 1.3 6.2 1.45 6.3 2.9 C6.4 4.3 9.7 3.6 9.7 5.1 C9.7 6.6 6.6 6.6 6.0 5.2" stroke-width="1.15"/><path d="M10.9 4.3 L11.9 3.6 V6.3" stroke-width="0.8"/></g></svg>
<span class="c14" style="left:490.52px;top:29.18px">38318</span>
<span class="c11" style="left:454.16px;top:89.18px">20 13</span>
<span class="c11" style="left:454.16px;top:98.97px">20 16</span>
<span class="c11" style="left:454.16px;top:108.76px">20 23</span>
<span class="c11" style="left:454.16px;top:118.54px">20 29</span>
<span class="c11" style="left:454.16px;top:128.33px">20 32</span>
<span class="c11" style="left:454.16px;top:138.12px">20 36</span>
<span class="c11" style="left:454.16px;top:147.9px">20 58</span>
<span class="c11" style="left:454.16px;top:157.69px">21 06</span>
<span class="c11" style="left:454.16px;top:167.48px">21 06</span>
<span class="c11" style="left:454.16px;top:177.26px">21 28</span>
<span class="c11" style="left:454.16px;top:187.05px">21 38</span>
<span class="c11" style="left:454.16px;top:196.84px">21 46</span>
<span class="c11" style="left:454.16px;top:206.63px">21 56</span>
<span class="c11" style="left:454.16px;top:216.41px">22 13</span>
<span class="c11" style="left:454.16px;top:226.2px">22 25</span>
<span class="c11" style="left:454.16px;top:235.99px">22 38</span>
<span class="c15" style="left:490.92px;top:245.47px">...</span>
<span class="c15" style="left:490.92px;top:255.26px">...</span>
<span class="c15" style="left:490.92px;top:265.05px">...</span>
<span class="c15" style="left:490.92px;top:274.83px">...</span>
<span class="c15" style="left:490.92px;top:284.62px">...</span>
<span class="c15" style="left:490.92px;top:294.41px">...</span>
<span class="c15" style="left:490.92px;top:304.2px">...</span>
<span class="c15" style="left:490.92px;top:314.78px">...</span>
<span class="c15" style="left:519.61px;top:88.88px">...</span>
<span class="c15" style="left:519.61px;top:98.67px">...</span>
<span class="c15" style="left:519.61px;top:108.46px">...</span>
<span class="c15" style="left:519.61px;top:118.24px">...</span>
<span class="c15" style="left:519.61px;top:128.03px">...</span>
<span class="c15" style="left:519.61px;top:137.82px">...</span>
<span class="c15" style="left:519.61px;top:147.6px">...</span>
<span class="c15" style="left:519.61px;top:158.19px">...</span>
<span class="c15" style="left:519.61px;top:167.18px">...</span>
<span class="c15" style="left:519.61px;top:176.96px">...</span>
<span class="c15" style="left:519.61px;top:186.75px">...</span>
<span class="c15" style="left:519.61px;top:196.54px">...</span>
<span class="c15" style="left:519.61px;top:206.33px">...</span>
<span class="c15" style="left:519.61px;top:216.11px">...</span>
<span class="c15" style="left:519.61px;top:225.9px">...</span>
<span class="c15" style="left:519.61px;top:236.49px">...</span>
<span class="c15" style="left:519.61px;top:245.47px">...</span>
<span class="c15" style="left:519.61px;top:255.26px">...</span>
<span class="c15" style="left:519.61px;top:265.05px">...</span>
<span class="c15" style="left:519.61px;top:274.83px">...</span>
<span class="c15" style="left:519.61px;top:284.62px">...</span>
<span class="c15" style="left:519.61px;top:294.41px">...</span>
<span class="c15" style="left:519.61px;top:304.2px">...</span>
<span class="c15" style="left:519.61px;top:314.78px">...</span>
<span class="c13" style="left:547.69px;top:2.77px">MÁV</span>
<svg style="left:589.89px;top:10px" width="15.6" height="7.8" viewBox="0 0 15.6 7.8"><rect width="15.6" height="7.8" rx="1.5" fill="#383838"/><g transform="skewX(-12)" fill="none" stroke="#fff"><path d="M9.6 2.55 C8.9 1.3 6.2 1.45 6.3 2.9 C6.4 4.3 9.7 3.6 9.7 5.1 C9.7 6.6 6.6 6.6 6.0 5.2" stroke-width="1.15"/><path d="M10.9 4.3 L11.9 3.6 V6.3" stroke-width="0.8"/></g></svg>
<span class="c14" style="left:547.89px;top:29.18px">38348</span>
<span class="c11" style="left:510.44px;top:89.18px">22 43</span>
<span class="c11" style="left:510.44px;top:98.97px">22 46</span>
<span class="c11" style="left:510.44px;top:108.76px">22 53</span>
<span class="c11" style="left:510.44px;top:118.54px">22 59</span>
<span class="c11" style="left:510.44px;top:128.33px">23 02</span>
<span class="c11" style="left:510.44px;top:138.12px">23 06</span>
<span class="c11" style="left:510.44px;top:147.9px">23 14</span>
<span class="c11" style="left:510.44px;top:157.69px">23 22</span>
<span class="c15" style="left:548.29px;top:167.18px">...</span>
<span class="c15" style="left:548.29px;top:176.96px">...</span>
<span class="c15" style="left:548.29px;top:186.75px">...</span>
<span class="c15" style="left:548.29px;top:196.54px">...</span>
<span class="c15" style="left:548.29px;top:206.33px">...</span>
<span class="c15" style="left:548.29px;top:216.11px">...</span>
<span class="c15" style="left:548.29px;top:225.9px">...</span>
<span class="c15" style="left:548.29px;top:236.49px">...</span>
<span class="c15" style="left:548.29px;top:245.47px">...</span>
<span class="c15" style="left:548.29px;top:255.26px">...</span>
<span class="c15" style="left:548.29px;top:265.05px">...</span>
<span class="c15" style="left:548.29px;top:274.83px">...</span>
<span class="c15" style="left:548.29px;top:284.62px">...</span>
<span class="c15" style="left:548.29px;top:294.41px">...</span>
<span class="c15" style="left:548.29px;top:304.2px">...</span>
<span class="c15" style="left:548.29px;top:314.78px">...</span>
<svg style="position:absolute;left:0;top:0;overflow:visible" width="1" height="1"><path d="M583.95 99.50 C587.85 102.44 587.85 106.35 583.95 109.29 C587.85 112.22 587.85 116.14 583.95 119.07 C587.85 122.01 587.85 125.92 583.95 128.86 C587.85 131.80 587.85 135.71 583.95 138.65 C587.85 141.58 587.85 145.50 583.95 148.44 C587.85 151.37 587.85 155.29 583.95 158.22" fill="none" stroke="#2d333f" stroke-width="1.0"/></svg><svg style="position:absolute;left:584.85px;top:91.60px" width="5.6" height="5.6" viewBox="0 0 5.6 5.6"><circle cx="2.8" cy="2.8" r="2.4" fill="none" stroke="#2e323a" stroke-width="0.8"/><path d="M1.75 4.0 L2.8 1.45 L3.85 4.0 M2.15 3.2 H3.45" fill="none" stroke="#22262e" stroke-width="0.9"/></svg><svg style="position:absolute;left:584.85px;top:160.11px" width="5.6" height="5.6" viewBox="0 0 5.6 5.6"><circle cx="2.8" cy="2.8" r="2.4" fill="none" stroke="#2e323a" stroke-width="0.8"/><path d="M1.75 4.0 L2.8 1.45 L3.85 4.0 M2.15 3.2 H3.45" fill="none" stroke="#22262e" stroke-width="0.9"/></svg>
<span class="c16" style="left:3px;top:33.68px">km</span>
<span class="c17" style="left:-253.3px;top:80.67px">Kindulási állomás</span>
<span class="c18" style="left:46.4px;top:325.82px">Végállomás</span>
<div class="c19" style="left:0px;top:-0.5px;width:153px;height:1px"></div>
<div class="c20" style="left:152.2px;top:-1.25px;width:459.8px;height:1.8px"></div>
<div class="c19" style="left:0px;top:77.9px;width:612px;height:1px"></div>
<div class="c19" style="left:0px;top:88.9px;width:612px;height:1px"></div>
<div class="c19" style="left:0px;top:166.96px;width:612px;height:1px"></div>
<div class="c19" style="left:0px;top:245.25px;width:612px;height:1px"></div>
<div class="c19" style="left:0px;top:323.55px;width:612px;height:1px"></div>
<div class="c19" style="left:0px;top:334.9px;width:153px;height:1px"></div>
<div class="c20" style="left:152.2px;top:333.7px;width:459.8px;height:2.2px"></div>
<div class="c19" style="left:14.85px;top:0px;width:1.1px;height:335.4px"></div>
<div class="c20" style="left:152.2px;top:0px;width:1.6px;height:335.4px"></div>
<div class="c19" style="left:181.19px;top:0px;width:1px;height:335.4px"></div>
<div class="c19" style="left:209.88px;top:0px;width:1px;height:335.4px"></div>
<div class="c19" style="left:238.57px;top:0px;width:1px;height:335.4px"></div>
<div class="c19" style="left:267.26px;top:0px;width:1px;height:335.4px"></div>
<div class="c19" style="left:295.95px;top:0px;width:1px;height:335.4px"></div>
<div class="c19" style="left:324.64px;top:0px;width:1px;height:335.4px"></div>
<div class="c19" style="left:353.33px;top:0px;width:1px;height:335.4px"></div>
<div class="c19" style="left:382.02px;top:0px;width:1px;height:335.4px"></div>
<div class="c19" style="left:410.71px;top:0px;width:1px;height:335.4px"></div>
<div class="c19" style="left:439.4px;top:0px;width:1px;height:335.4px"></div>
<div class="c19" style="left:468.09px;top:0px;width:1px;height:335.4px"></div>
<div class="c19" style="left:496.78px;top:0px;width:1px;height:335.4px"></div>
<div class="c19" style="left:525.47px;top:0px;width:1px;height:335.4px"></div>
<div class="c19" style="left:554.16px;top:0px;width:1px;height:335.4px"></div>
<div class="c19" style="left:582.85px;top:0px;width:1px;height:335.4px"></div>
</div>
<div class="sec" style="width:612.0px;height:335.4px;transform:matrix(1.001471,-0.00996732,0.01132976,0.9973166,62.75,588.25)">
<div class="c5" style="left:239.07px;top:89.4px;width:28.69px;height:78.06px"></div>
<div class="c5" style="left:296.45px;top:89.4px;width:28.69px;height:78.06px"></div>
<div class="c5" style="left:325.14px;top:89.4px;width:28.69px;height:78.06px"></div>
<div class="c5" style="left:382.52px;top:89.4px;width:28.69px;height:78.06px"></div>
<div class="c5" style="left:468.59px;top:89.4px;width:28.69px;height:78.06px"></div>
<div class="c5" style="left:525.97px;top:89.4px;width:28.69px;height:78.06px"></div>
<div class="c5" style="left:583.35px;top:89.4px;width:28.69px;height:78.06px"></div>
<span class="c6" style="left:242.6px;top:-40.3px">35 Siófok — Kaposvár</span>
<span class="c7" style="left:217.3px;top:-23.8px">Érvényes: 2026.IV.07-től 2026.IV.16-ig.</span>
<div class="c3" style="left:127.8px;top:306.61px;width:4.3px;height:0.9px"></div><div class="c3" style="left:131.3px;top:306.61px;width:0.9px;height:14.99px"></div><div class="c3" style="left:127.8px;top:320.7px;width:4.3px;height:0.9px"></div><span class="c4" style="left:133.6px;top:304.2px">41</span>
<span class="c8" style="left:-85.7px;top:89.18px">0</span>
<div class="c5" style="left:40.13px;top:89.46px;width:45.22px;height:9.79px"></div>
<span class="c9" style="left:17.5px;top:89.18px">Siófok/vá. / aut. áll.</span>
<span class="c10" style="left:84.75px;top:89.18px">  30</span>
<div style="position:absolute;left:97.51px;top:96.80px;width:43.19px;height:0;border-bottom:1px dotted #4a4a4a"></div>
<span class="c11" style="left:-85.7px;top:98.97px">3</span>
<div class="c5" style="left:45.54px;top:99.25px;width:53.11px;height:9.79px"></div>
<span class="c12" style="left:17.5px;top:98.97px">Sióvölgy/Siófok, Kereszt</span>
<div style="position:absolute;left:100.25px;top:106.59px;width:40.45px;height:0;border-bottom:1px dotted #4a4a4a"></div>
<span class="c11" style="left:-85.7px;top:108.76px">8</span>
<div class="c5" style="left:35.99px;top:109.04px;width:23.22px;height:9.79px"></div>
<span class="c12" style="left:17.5px;top:108.76px">Siójut/aut.vt.</span>
<div style="position:absolute;left:60.81px;top:116.37px;width:79.89px;height:0;border-bottom:1px dotted #4a4a4a"></div>
<span class="c11" style="left:-85.7px;top:118.54px">11</span>
<div class="c5" style="left:38.9px;top:118.82px;width:25.3px;height:9.79px"></div>
<span class="c12" style="left:17.5px;top:118.54px">Ádánd/aut. vt.</span>
<div style="position:absolute;left:65.80px;top:126.16px;width:74.90px;height:0;border-bottom:1px dotted #4a4a4a"></div>
<span class="c11" style="left:-85.7px;top:128.33px">17</span>
<div class="c5" style="left:75.43px;top:128.61px;width:36.51px;height:9.79px"></div>
<span class="c12" style="left:17.5px;top:128.33px">Som-Nagyberény/Som, Alsó</span>
<div style="position:absolute;left:113.53px;top:135.95px;width:27.17px;height:0;border-bottom:1px dotted #4a4a4a"></div>
<span class="c11" style="left:-85.7px;top:138.12px">21</span>
<div class="c5" style="left:63.39px;top:138.4px;width:68.48px;height:9.79px"></div>
<span class="c12" style="left:17.5px;top:138.12px">Daránypuszta/Som, Daránypuszta</span>
<div style="position:absolute;left:133.47px;top:145.73px;width:7.23px;height:0;border-bottom:1px dotted #4a4a4a"></div>
<span class="c11" style="left:-85.7px;top:147.9px">25</span>
<div class="c5" style="left:67.55px;top:148.19px;width:33.18px;height:9.79px"></div>
<span class="c12" style="left:17.5px;top:147.9px">Bábonymegyer/Templom</span>
<div style="position:absolute;left:102.33px;top:155.52px;width:38.37px;height:0;border-bottom:1px dotted #4a4a4a"></div>
<span class="c11" style="left:-85.7px;top:157.69px">31</span>
<div class="c5" style="left:29.34px;top:157.97px;width:37.33px;height:9.79px"></div>
<span class="c12" style="left:17.5px;top:157.69px">Tab/vá. id. mh.</span>
<div style="position:absolute;left:68.28px;top:165.31px;width:72.42px;height:0;border-bottom:1px dotted #4a4a4a"></div>
<svg style="position:absolute;left:143.65px;top:157.96px" width="7.90" height="7.90" viewBox="0 0 7.90 7.90"><circle cx="3.95" cy="3.95" r="2.68" fill="none" stroke="#262626" stroke-width="1.55"/></svg>
<span class="c12" style="left:17.5px;top:167.48px">Tab</span>
<div style="position:absolute;left:31.74px;top:175.10px;width:108.96px;height:0;border-bottom:1px dotted #4a4a4a"></div>
<span class="c11" style="left:-85.7px;top:177.26px">37</span>
<span class="c12" style="left:17.5px;top:177.26px">Kapoly</span>
<div style="position:absolute;left:42.54px;top:184.88px;width:98.16px;height:0;border-bottom:1px dotted #4a4a4a"></div>
<span class="c11" style="left:-85.7px;top:187.05px">43</span>
<span class="c12" style="left:17.5px;top:187.05px">Somogymeggyes</span>
<div style="position:absolute;left:77.42px;top:194.67px;width:63.28px;height:0;border-bottom:1px dotted #4a4a4a"></div>
<span class="c11" style="left:-85.7px;top:196.84px">51</span>
<span class="c12" style="left:17.5px;top:196.84px">Karád</span>
<div style="position:absolute;left:39.63px;top:204.46px;width:101.07px;height:0;border-bottom:1px dotted #4a4a4a"></div>
<span class="c11" style="left:-85.7px;top:206.63px">55</span>
<span class="c12" style="left:17.5px;top:206.63px">Andocs</span>
<div style="position:absolute;left:44.62px;top:214.24px;width:96.08px;height:0;border-bottom:1px dotted #4a4a4a"></div>
<span class="c11" style="left:-85.7px;top:216.41px">59</span>
<span class="c12" style="left:17.5px;top:216.41px">Bonnya</span>
<div style="position:absolute;left:45.04px;top:224.03px;width:95.66px;height:0;border-bottom:1px dotted #4a4a4a"></div>
<span class="c11" style="left:-85.7px;top:226.2px">64</span>
<span class="c12" style="left:17.5px;top:226.2px">Kisbárapáti</span>
<div style="position:absolute;left:57.07px;top:233.82px;width:83.63px;height:0;border-bottom:1px dotted #4a4a4a"></div>
<span class="c11" style="left:-85.7px;top:235.99px">74</span>
<span class="c12" style="left:17.5px;top:235.99px">Felsőmocsolád</span>
<div style="position:absolute;left:69.94px;top:243.60px;width:70.76px;height:0;border-bottom:1px dotted #4a4a4a"></div>
<svg style="position:absolute;left:143.65px;top:236.25px" width="7.90" height="7.90" viewBox="0 0 7.90 7.90"><circle cx="3.95" cy="3.95" r="2.68" fill="none" stroke="#262626" stroke-width="1.55"/></svg>
<span class="c12" style="left:17.5px;top:245.77px">Felsőmocsolád</span>
<div style="position:absolute;left:69.94px;top:253.39px;width:70.76px;height:0;border-bottom:1px dotted #4a4a4a"></div>
<span class="c11" style="left:-85.7px;top:255.56px">80</span>
<span class="c12" style="left:17.5px;top:255.56px">Mernye</span>
<div style="position:absolute;left:44.61px;top:263.18px;width:96.09px;height:0;border-bottom:1px dotted #4a4a4a"></div>
<span class="c11" style="left:-85.7px;top:265.35px">84</span>
<span class="c12" style="left:17.5px;top:265.35px">Somodor</span>
<div style="position:absolute;left:50.01px;top:272.97px;width:90.69px;height:0;border-bottom:1px dotted #4a4a4a"></div>
<span class="c11" style="left:-85.7px;top:275.13px">86</span>
<span class="c12" style="left:17.5px;top:275.13px">Somogyaszaló</span>
<div style="position:absolute;left:68.70px;top:282.75px;width:72.00px;height:0;border-bottom:1px dotted #4a4a4a"></div>
<span class="c11" style="left:-85.7px;top:284.92px">89</span>
<span class="c12" style="left:17.5px;top:284.92px">Répáspuszta</span>
<div style="position:absolute;left:63.30px;top:292.54px;width:77.40px;height:0;border-bottom:1px dotted #4a4a4a"></div>
<span class="c11" style="left:-85.7px;top:294.71px">92</span>
<span class="c12" style="left:17.5px;top:294.71px">Toponár</span>
<div style="position:absolute;left:46.70px;top:302.33px;width:94.00px;height:0;border-bottom:1px dotted #4a4a4a"></div>
<span class="c11" style="left:-85.7px;top:304.5px">98</span>
<span class="c12" style="left:17.5px;top:304.5px">Kaposszentjakab</span>
<div style="position:absolute;left:76.59px;top:312.11px;width:48.41px;height:0;border-bottom:1px dotted #4a4a4a"></div>
<span class="c8" style="left:-85.7px;top:314.28px">100</span>
<span class="c9" style="left:17.5px;top:314.28px">Kaposvár</span>
<span class="c10" style="left:51.55px;top:314.28px">  36</span>
<div style="position:absolute;left:64.31px;top:321.90px;width:60.69px;height:0;border-bottom:1px dotted #4a4a4a"></div>
<svg style="position:absolute;left:143.65px;top:314.55px" width="7.90" height="7.90" viewBox="0 0 7.90 7.90"><circle cx="3.95" cy="3.95" r="2.68" fill="none" stroke="#262626" stroke-width="1.55"/></svg>
<span class="c13" style="left:117.34px;top:2.77px">MÁV</span>
<svg style="left:159.54px;top:10px" width="15.6" height="7.8" viewBox="0 0 15.6 7.8"><rect width="15.6" height="7.8" rx="1.5" fill="#383838"/><g transform="skewX(-12)" fill="none" stroke="#fff"><path d="M9.6 2.55 C8.9 1.3 6.2 1.45 6.3 2.9 C6.4 4.3 9.7 3.6 9.7 5.1 C9.7 6.6 6.6 6.6 6.0 5.2" stroke-width="1.15"/><path d="M10.9 4.3 L11.9 3.6 V6.3" stroke-width="0.8"/></g></svg>
<span class="c14" style="left:117.54px;top:29.18px">38319</span>
<span class="c15" style="left:117.94px;top:88.88px">...</span>
<span class="c15" style="left:117.94px;top:98.67px">...</span>
<span class="c15" style="left:117.94px;top:108.46px">...</span>
<span class="c15" style="left:117.94px;top:118.24px">...</span>
<span class="c15" style="left:117.94px;top:128.03px">...</span>
<span class="c15" style="left:117.94px;top:137.82px">...</span>
<span class="c15" style="left:117.94px;top:147.6px">...</span>
<span class="c15" style="left:117.94px;top:158.19px">...</span>
<span class="c11" style="left:81.19px;top:167.48px">2 21</span>
<span class="c11" style="left:81.19px;top:177.26px">2 33</span>
<span class="c11" style="left:81.19px;top:187.05px">2 45</span>
<span class="c11" style="left:81.19px;top:196.84px">3 05</span>
<span class="c11" style="left:81.19px;top:206.63px">3 13</span>
<span class="c11" style="left:81.19px;top:216.41px">3 22</span>
<span class="c11" style="left:81.19px;top:226.2px">3 34</span>
<span class="c11" style="left:81.19px;top:235.99px">3 54</span>
<span class="c11" style="left:81.19px;top:245.77px">3 54</span>
<span class="c11" style="left:81.19px;top:255.56px">4 28</span>
<span class="c11" style="left:81.19px;top:265.35px">4 33</span>
<span class="c11" style="left:81.19px;top:275.13px">4 36</span>
<span class="c11" style="left:81.19px;top:284.92px">4 40</span>
<span class="c11" style="left:81.19px;top:294.71px">4 45</span>
<span class="c11" style="left:81.19px;top:304.5px">4 53</span>
<span class="c11" style="left:81.19px;top:314.28px">4 58</span>
<span class="c15" style="left:146.63px;top:88.88px">...</span>
<span class="c15" style="left:146.63px;top:98.67px">...</span>
<span class="c15" style="left:146.63px;top:108.46px">...</span>
<span class="c15" style="left:146.63px;top:118.24px">...</span>
<span class="c15" style="left:146.63px;top:128.03px">...</span>
<span class="c15" style="left:146.63px;top:137.82px">...</span>
<span class="c15" style="left:146.63px;top:147.6px">...</span>
<span class="c15" style="left:146.63px;top:158.19px">...</span>
<span class="c15" style="left:146.63px;top:167.18px">...</span>
<span class="c15" style="left:146.63px;top:176.96px">...</span>
<span class="c15" style="left:146.63px;top:186.75px">...</span>
<span class="c15" style="left:146.63px;top:196.54px">...</span>
<span class="c15" style="left:146.63px;top:206.33px">...</span>
<span class="c15" style="left:146.63px;top:216.11px">...</span>
<span class="c15" style="left:146.63px;top:225.9px">...</span>
<span class="c15" style="left:146.63px;top:236.49px">...</span>
<span class="c15" style="left:146.63px;top:245.47px">...</span>
<span class="c15" style="left:146.63px;top:255.26px">...</span>
<span class="c15" style="left:146.63px;top:265.05px">...</span>
<span class="c15" style="left:146.63px;top:274.83px">...</span>
<span class="c15" style="left:146.63px;top:284.62px">...</span>
<span class="c15" style="left:146.63px;top:294.41px">...</span>
<span class="c15" style="left:146.63px;top:304.2px">...</span>
<span class="c15" style="left:146.63px;top:314.78px">...</span>
<span class="c13" style="left:174.72px;top:2.77px">MÁV</span>
<svg style="left:216.92px;top:10px" width="15.6" height="7.8" viewBox="0 0 15.6 7.8"><rect width="15.6" height="7.8" rx="1.5" fill="#383838"/><g transform="skewX(-12)" fill="none" stroke="#fff"><path d="M9.6 2.55 C8.9 1.3 6.2 1.45 6.3 2.9 C6.4 4.3 9.7 3.6 9.7 5.1 C9.7 6.6 6.6 6.6 6.0 5.2" stroke-width="1.15"/><path d="M10.9 4.3 L11.9 3.6 V6.3" stroke-width="0.8"/></g></svg>
<span class="c14" style="left:174.92px;top:29.18px">38339</span>
<span class="c15" style="left:175.32px;top:88.88px">...</span>
<span class="c15" style="left:175.32px;top:98.67px">...</span>
<span class="c15" style="left:175.32px;top:108.46px">...</span>
<span class="c15" style="left:175.32px;top:118.24px">...</span>
<span class="c15" style="left:175.32px;top:128.03px">...</span>
<span class="c15" style="left:175.32px;top:137.82px">...</span>
<span class="c15" style="left:175.32px;top:147.6px">...</span>
<span class="c15" style="left:175.32px;top:158.19px">...</span>
<span class="c15" style="left:175.32px;top:167.18px">...</span>
<span class="c15" style="left:175.32px;top:176.96px">...</span>
<span class="c15" style="left:175.32px;top:186.75px">...</span>
<span class="c11" style="left:138.57px;top:196.84px">5 37</span>
<span class="c11" style="left:138.57px;top:206.63px">5 45</span>
<span class="c11" style="left:138.57px;top:216.41px">5 54</span>
<span class="c11" style="left:138.57px;top:226.2px">6 06</span>
<span class="c11" style="left:138.57px;top:235.99px">6 26</span>
<span class="c11" style="left:138.57px;top:245.77px">6 26</span>
<span class="c11" style="left:138.57px;top:255.56px">6 35</span>
<span class="c11" style="left:138.57px;top:265.35px">6 40</span>
<span class="c11" style="left:138.57px;top:275.13px">6 43</span>
<span class="c11" style="left:138.57px;top:284.92px">6 47</span>
<span class="c11" style="left:138.57px;top:294.71px">6 52</span>
<span class="c11" style="left:138.57px;top:304.5px">7 00</span>
<span class="c11" style="left:138.57px;top:314.28px">7 05</span>
<svg style="position:absolute;left:0;top:0;overflow:visible" width="1" height="1"><path d="M210.98 207.16 C214.88 210.09 214.88 214.01 210.98 216.94 C214.88 219.88 214.88 223.79 210.98 226.73 C214.88 229.67 214.88 233.58 210.98 236.52 C214.88 239.45 214.88 243.37 210.98 246.31 C214.88 249.24 214.88 253.16 210.98 256.09 C214.88 259.03 214.88 262.94 210.98 265.88 C214.88 268.82 214.88 272.73 210.98 275.67 C214.88 278.60 214.88 282.52 210.98 285.45 C214.88 288.39 214.88 292.30 210.98 295.24 C214.88 298.18 214.88 302.09 210.98 305.03 C214.88 307.96 214.88 311.88 210.98 314.81" fill="none" stroke="#2d333f" stroke-width="1.0"/></svg><svg style="position:absolute;left:211.88px;top:199.26px" width="5.6" height="5.6" viewBox="0 0 5.6 5.6"><circle cx="2.8" cy="2.8" r="2.4" fill="none" stroke="#2e323a" stroke-width="0.8"/><path d="M1.75 4.0 L2.8 1.45 L3.85 4.0 M2.15 3.2 H3.45" fill="none" stroke="#22262e" stroke-width="0.9"/></svg><svg style="position:absolute;left:211.88px;top:316.70px" width="5.6" height="5.6" viewBox="0 0 5.6 5.6"><circle cx="2.8" cy="2.8" r="2.4" fill="none" stroke="#2e323a" stroke-width="0.8"/><path d="M1.75 4.0 L2.8 1.45 L3.85 4.0 M2.15 3.2 H3.45" fill="none" stroke="#22262e" stroke-width="0.9"/></svg>
<span class="c13" style="left:203.41px;top:2.77px">MÁV</span>
<svg style="left:245.41px;top:9.4px" width="16" height="9" viewBox="0 0 16 9"><g fill="#5a5a5a"><rect x="0.5" y="0.55" width="1.4" height="0.9"/><rect x="4.7" y="0.55" width="1.4" height="0.9"/><rect x="9.6" y="0.55" width="1.4" height="0.9"/><rect x="14.1" y="0.55" width="1.4" height="0.9"/><rect x="0.5" y="7.75" width="1.4" height="0.9"/><rect x="4.7" y="7.75" width="1.4" height="0.9"/><rect x="9.6" y="7.75" width="1.4" height="0.9"/><rect x="14.1" y="7.75" width="1.4" height="0.9"/></g><rect x="2.3" y="1.8" width="10.9" height="2.6" rx="0.9" fill="#8c8c8c"/><rect x="3.6" y="2.5" width="1.6" height="1.2" fill="#e4e4e4"/><rect x="9.0" y="2.5" width="2.6" height="1.2" fill="#d8d8d8"/><rect x="2.1" y="4.2" width="11.5" height="2.2" rx="1.0" fill="#383838"/></svg>
<svg style="left:249.27px;top:58.35px" width="8.9" height="8.9" viewBox="0 0 8.4 8.4"><circle cx="4.2" cy="4.2" r="3.7" fill="none" stroke="#808080" stroke-width="0.6"/><path d="M3.1 2.0 L3.3 4.6 L5.2 4.6 L6.1 6.3 M3.3 3.3 L5 3.3" fill="none" stroke="#6a6a6a" stroke-width="0.8"/><path d="M2.9 3.9 A1.9 1.9 0 1 0 5.4 6.0" fill="none" stroke="#6a6a6a" stroke-width="0.7"/></svg>
<span class="c14" style="left:203.61px;top:29.18px">38397</span>
<span class="c11" style="left:167.26px;top:89.18px">6 27</span>
<span class="c11" style="left:167.26px;top:98.97px">6 32</span>
<span class="c11" style="left:167.26px;top:108.76px">6 42</span>
<span class="c11" style="left:167.26px;top:118.54px">6 49</span>
<span class="c11" style="left:167.26px;top:128.33px">7 01</span>
<span class="c11" style="left:167.26px;top:138.12px">7 06</span>
<span class="c11" style="left:167.26px;top:147.9px">7 10</span>
<span class="c11" style="left:167.26px;top:157.69px">7 17</span>
<span class="c15" style="left:204.01px;top:167.18px">...</span>
<span class="c15" style="left:204.01px;top:176.96px">...</span>
<span class="c15" style="left:204.01px;top:186.75px">...</span>
<span class="c15" style="left:204.01px;top:196.54px">...</span>
<span class="c15" style="left:204.01px;top:206.33px">...</span>
<span class="c15" style="left:204.01px;top:216.11px">...</span>
<span class="c15" style="left:204.01px;top:225.9px">...</span>
<span class="c15" style="left:204.01px;top:236.49px">...</span>
<span class="c15" style="left:204.01px;top:245.47px">...</span>
<span class="c15" style="left:204.01px;top:255.26px">...</span>
<span class="c15" style="left:204.01px;top:265.05px">...</span>
<span class="c15" style="left:204.01px;top:274.83px">...</span>
<span class="c15" style="left:204.01px;top:284.62px">...</span>
<span class="c15" style="left:204.01px;top:294.41px">...</span>
<span class="c15" style="left:204.01px;top:304.2px">...</span>
<span class="c15" style="left:204.01px;top:314.78px">...</span>
<svg style="position:absolute;left:0;top:0;overflow:visible" width="1" height="1"><path d="M239.67 99.50 C243.57 102.44 243.57 106.35 239.67 109.29 C243.57 112.22 243.57 116.14 239.67 119.07 C243.57 122.01 243.57 125.92 239.67 128.86 C243.57 131.80 243.57 135.71 239.67 138.65 C243.57 141.58 243.57 145.50 239.67 148.44 C243.57 151.37 243.57 155.29 239.67 158.22" fill="none" stroke="#2d333f" stroke-width="1.0"/></svg><svg style="position:absolute;left:240.57px;top:91.60px" width="5.6" height="5.6" viewBox="0 0 5.6 5.6"><circle cx="2.8" cy="2.8" r="2.4" fill="none" stroke="#2e323a" stroke-width="0.8"/><path d="M1.75 4.0 L2.8 1.45 L3.85 4.0 M2.15 3.2 H3.45" fill="none" stroke="#22262e" stroke-width="0.9"/></svg><svg style="position:absolute;left:240.57px;top:160.11px" width="5.6" height="5.6" viewBox="0 0 5.6 5.6"><circle cx="2.8" cy="2.8" r="2.4" fill="none" stroke="#2e323a" stroke-width="0.8"/><path d="M1.75 4.0 L2.8 1.45 L3.85 4.0 M2.15 3.2 H3.45" fill="none" stroke="#22262e" stroke-width="0.9"/></svg>
<span class="c13" style="left:232.11px;top:2.77px">MÁV</span>
<svg style="left:274.31px;top:10px" width="15.6" height="7.8" viewBox="0 0 15.6 7.8"><rect width="15.6" height="7.8" rx="1.5" fill="#383838"/><g transform="skewX(-12)" fill="none" stroke="#fff"><path d="M9.6 2.55 C8.9 1.3 6.2 1.45 6.3 2.9 C6.4 4.3 9.7 3.6 9.7 5.1 C9.7 6.6 6.6 6.6 6.0 5.2" stroke-width="1.15"/><path d="M10.9 4.3 L11.9 3.6 V6.3" stroke-width="0.8"/></g></svg>
<span class="c14" style="left:232.31px;top:29.18px">38347</span>
<span class="c15" style="left:232.71px;top:88.88px">...</span>
<span class="c15" style="left:232.71px;top:98.67px">...</span>
<span class="c15" style="left:232.71px;top:108.46px">...</span>
<span class="c15" style="left:232.71px;top:118.24px">...</span>
<span class="c15" style="left:232.71px;top:128.03px">...</span>
<span class="c15" style="left:232.71px;top:137.82px">...</span>
<span class="c15" style="left:232.71px;top:147.6px">...</span>
<span class="c15" style="left:232.71px;top:158.19px">...</span>
<span class="c15" style="left:232.71px;top:167.18px">...</span>
<span class="c15" style="left:232.71px;top:176.96px">...</span>
<span class="c15" style="left:232.71px;top:186.75px">...</span>
<span class="c15" style="left:232.71px;top:196.54px">...</span>
<span class="c15" style="left:232.71px;top:206.33px">...</span>
<span class="c15" style="left:232.71px;top:216.11px">...</span>
<span class="c15" style="left:232.71px;top:225.9px">...</span>
<span class="c15" style="left:232.71px;top:236.49px">...</span>
<span class="c11" style="left:195.95px;top:245.77px">8 00</span>
<span class="c11" style="left:195.95px;top:255.56px">8 09</span>
<span class="c11" style="left:195.95px;top:265.35px">8 14</span>
<span class="c11" style="left:195.95px;top:275.13px">8 17</span>
<span class="c11" style="left:195.95px;top:284.92px">8 21</span>
<span class="c11" style="left:195.95px;top:294.71px">8 26</span>
<span class="c11" style="left:195.95px;top:304.5px">8 34</span>
<span class="c11" style="left:195.95px;top:314.28px">8 39</span>
<span class="c13" style="left:260.8px;top:2.77px">MÁV</span>
<svg style="left:303px;top:10px" width="15.6" height="7.8" viewBox="0 0 15.6 7.8"><rect width="15.6" height="7.8" rx="1.5" fill="#383838"/><g transform="skewX(-12)" fill="none" stroke="#fff"><path d="M9.6 2.55 C8.9 1.3 6.2 1.45 6.3 2.9 C6.4 4.3 9.7 3.6 9.7 5.1 C9.7 6.6 6.6 6.6 6.0 5.2" stroke-width="1.15"/><path d="M10.9 4.3 L11.9 3.6 V6.3" stroke-width="0.8"/></g></svg>
<span class="c14" style="left:261px;top:29.18px">38317</span>
<span class="c11" style="left:224.64px;top:89.18px">7 10</span>
<span class="c11" style="left:224.64px;top:98.97px">7 15</span>
<span class="c11" style="left:224.64px;top:108.76px">7 25</span>
<span class="c11" style="left:224.64px;top:118.54px">7 32</span>
<span class="c11" style="left:224.64px;top:128.33px">7 44</span>
<span class="c11" style="left:224.64px;top:138.12px">7 49</span>
<span class="c11" style="left:224.64px;top:147.9px">7 53</span>
<span class="c11" style="left:224.64px;top:157.69px">8 00</span>
<span class="c11" style="left:224.64px;top:167.48px">8 06</span>
<span class="c11" style="left:224.64px;top:177.26px">8 18</span>
<span class="c11" style="left:224.64px;top:187.05px">8 31</span>
<span class="c11" style="left:224.64px;top:196.84px">8 51</span>
<span class="c11" style="left:224.64px;top:206.63px">8 59</span>
<span class="c11" style="left:224.64px;top:216.41px">9 08</span>
<span class="c11" style="left:224.64px;top:226.2px">9 20</span>
<span class="c11" style="left:224.64px;top:235.99px">9 40</span>
<span class="c11" style="left:224.64px;top:245.77px">9 40</span>
<span class="c11" style="left:224.64px;top:255.56px">9 49</span>
<span class="c11" style="left:224.64px;top:265.35px">9 54</span>
<span class="c11" style="left:224.64px;top:275.13px">9 57</span>
<span class="c11" style="left:224.64px;top:284.92px">10 01</span>
<span class="c11" style="left:224.64px;top:294.71px">10 06</span>
<span class="c11" style="left:224.64px;top:304.5px">10 14</span>
<span class="c11" style="left:224.64px;top:314.28px">10 19</span>
<span class="c13" style="left:289.49px;top:2.77px">MÁV</span>
<svg style="left:331.49px;top:9.4px" width="16" height="9" viewBox="0 0 16 9"><g fill="#5a5a5a"><rect x="0.5" y="0.55" width="1.4" height="0.9"/><rect x="4.7" y="0.55" width="1.4" height="0.9"/><rect x="9.6" y="0.55" width="1.4" height="0.9"/><rect x="14.1" y="0.55" width="1.4" height="0.9"/><rect x="0.5" y="7.75" width="1.4" height="0.9"/><rect x="4.7" y="7.75" width="1.4" height="0.9"/><rect x="9.6" y="7.75" width="1.4" height="0.9"/><rect x="14.1" y="7.75" width="1.4" height="0.9"/></g><rect x="2.3" y="1.8" width="10.9" height="2.6" rx="0.9" fill="#8c8c8c"/><rect x="3.6" y="2.5" width="1.6" height="1.2" fill="#e4e4e4"/><rect x="9.0" y="2.5" width="2.6" height="1.2" fill="#d8d8d8"/><rect x="2.1" y="4.2" width="11.5" height="2.2" rx="1.0" fill="#383838"/></svg>
<svg style="left:335.34px;top:58.35px" width="8.9" height="8.9" viewBox="0 0 8.4 8.4"><circle cx="4.2" cy="4.2" r="3.7" fill="none" stroke="#808080" stroke-width="0.6"/><path d="M3.1 2.0 L3.3 4.6 L5.2 4.6 L6.1 6.3 M3.3 3.3 L5 3.3" fill="none" stroke="#6a6a6a" stroke-width="0.8"/><path d="M2.9 3.9 A1.9 1.9 0 1 0 5.4 6.0" fill="none" stroke="#6a6a6a" stroke-width="0.7"/></svg>
<span class="c14" style="left:289.69px;top:29.18px">38367</span>
<span class="c11" style="left:253.33px;top:89.18px">8 10</span>
<span class="c11" style="left:253.33px;top:98.97px">8 15</span>
<span class="c11" style="left:253.33px;top:108.76px">8 25</span>
<span class="c11" style="left:253.33px;top:118.54px">8 32</span>
<span class="c11" style="left:253.33px;top:128.33px">8 44</span>
<span class="c11" style="left:253.33px;top:138.12px">8 49</span>
<span class="c11" style="left:253.33px;top:147.9px">8 53</span>
<span class="c11" style="left:253.33px;top:157.69px">9 00</span>
<span class="c15" style="left:290.09px;top:167.18px">...</span>
<span class="c15" style="left:290.09px;top:176.96px">...</span>
<span class="c15" style="left:290.09px;top:186.75px">...</span>
<span class="c15" style="left:290.09px;top:196.54px">...</span>
<span class="c15" style="left:290.09px;top:206.33px">...</span>
<span class="c15" style="left:290.09px;top:216.11px">...</span>
<span class="c15" style="left:290.09px;top:225.9px">...</span>
<span class="c15" style="left:290.09px;top:236.49px">...</span>
<span class="c15" style="left:290.09px;top:245.47px">...</span>
<span class="c15" style="left:290.09px;top:255.26px">...</span>
<span class="c15" style="left:290.09px;top:265.05px">...</span>
<span class="c15" style="left:290.09px;top:274.83px">...</span>
<span class="c15" style="left:290.09px;top:284.62px">...</span>
<span class="c15" style="left:290.09px;top:294.41px">...</span>
<span class="c15" style="left:290.09px;top:304.2px">...</span>
<span class="c15" style="left:290.09px;top:314.78px">...</span>
<svg style="position:absolute;left:0;top:0;overflow:visible" width="1" height="1"><path d="M325.74 99.50 C329.64 102.44 329.64 106.35 325.74 109.29 C329.64 112.22 329.64 116.14 325.74 119.07 C329.64 122.01 329.64 125.92 325.74 128.86 C329.64 131.80 329.64 135.71 325.74 138.65 C329.64 141.58 329.64 145.50 325.74 148.44 C329.64 151.37 329.64 155.29 325.74 158.22" fill="none" stroke="#2d333f" stroke-width="1.0"/></svg><svg style="position:absolute;left:326.64px;top:91.60px" width="5.6" height="5.6" viewBox="0 0 5.6 5.6"><circle cx="2.8" cy="2.8" r="2.4" fill="none" stroke="#2e323a" stroke-width="0.8"/><path d="M3.75 2.05 A1.25 1.25 0 1 0 3.75 3.55" fill="none" stroke="#22262e" stroke-width="0.9"/></svg><svg style="position:absolute;left:326.64px;top:160.11px" width="5.6" height="5.6" viewBox="0 0 5.6 5.6"><circle cx="2.8" cy="2.8" r="2.4" fill="none" stroke="#2e323a" stroke-width="0.8"/><path d="M3.75 2.05 A1.25 1.25 0 1 0 3.75 3.55" fill="none" stroke="#22262e" stroke-width="0.9"/></svg>
<span class="c15" style="left:318.78px;top:88.88px">...</span>
<span class="c15" style="left:318.78px;top:98.67px">...</span>
<span class="c15" style="left:318.78px;top:108.46px">...</span>
<span class="c15" style="left:318.78px;top:118.24px">...</span>
<span class="c15" style="left:318.78px;top:128.03px">...</span>
<span class="c15" style="left:318.78px;top:137.82px">...</span>
<span class="c15" style="left:318.78px;top:147.6px">...</span>
<span class="c15" style="left:318.78px;top:158.19px">...</span>
<span class="c15" style="left:318.78px;top:167.18px">...</span>
<span class="c15" style="left:318.78px;top:176.96px">...</span>
<span class="c15" style="left:318.78px;top:186.75px">...</span>
<span class="c15" style="left:318.78px;top:196.54px">...</span>
<span class="c15" style="left:318.78px;top:206.33px">...</span>
<span class="c15" style="left:318.78px;top:216.11px">...</span>
<span class="c15" style="left:318.78px;top:225.9px">...</span>
<span class="c15" style="left:318.78px;top:236.49px">...</span>
<span class="c15" style="left:318.78px;top:245.47px">...</span>
<span class="c15" style="left:318.78px;top:255.26px">...</span>
<span class="c15" style="left:318.78px;top:265.05px">...</span>
<span class="c15" style="left:318.78px;top:274.83px">...</span>
<span class="c15" style="left:318.78px;top:284.62px">...</span>
<span class="c15" style="left:318.78px;top:294.41px">...</span>
<span class="c15" style="left:318.78px;top:304.2px">...</span>
<span class="c15" style="left:318.78px;top:314.78px">...</span>
<span class="c13" style="left:346.87px;top:2.77px">MÁV</span>
<svg style="left:388.87px;top:9.4px" width="16" height="9" viewBox="0 0 16 9"><g fill="#5a5a5a"><rect x="0.5" y="0.55" width="1.4" height="0.9"/><rect x="4.7" y="0.55" width="1.4" height="0.9"/><rect x="9.6" y="0.55" width="1.4" height="0.9"/><rect x="14.1" y="0.55" width="1.4" height="0.9"/><rect x="0.5" y="7.75" width="1.4" height="0.9"/><rect x="4.7" y="7.75" width="1.4" height="0.9"/><rect x="9.6" y="7.75" width="1.4" height="0.9"/><rect x="14.1" y="7.75" width="1.4" height="0.9"/></g><rect x="2.3" y="1.8" width="10.9" height="2.6" rx="0.9" fill="#8c8c8c"/><rect x="3.6" y="2.5" width="1.6" height="1.2" fill="#e4e4e4"/><rect x="9.0" y="2.5" width="2.6" height="1.2" fill="#d8d8d8"/><rect x="2.1" y="4.2" width="11.5" height="2.2" rx="1.0" fill="#383838"/></svg>
<svg style="left:392.72px;top:58.35px" width="8.9" height="8.9" viewBox="0 0 8.4 8.4"><circle cx="4.2" cy="4.2" r="3.7" fill="none" stroke="#808080" stroke-width="0.6"/><path d="M3.1 2.0 L3.3 4.6 L5.2 4.6 L6.1 6.3 M3.3 3.3 L5 3.3" fill="none" stroke="#6a6a6a" stroke-width="0.8"/><path d="M2.9 3.9 A1.9 1.9 0 1 0 5.4 6.0" fill="none" stroke="#6a6a6a" stroke-width="0.7"/></svg>
<span class="c14" style="left:347.06px;top:29.18px">38365</span>
<span class="c11" style="left:310.71px;top:89.18px">11 10</span>
<span class="c11" style="left:310.71px;top:98.97px">11 15</span>
<span class="c11" style="left:310.71px;top:108.76px">11 25</span>
<span class="c11" style="left:310.71px;top:118.54px">11 32</span>
<span class="c11" style="left:310.71px;top:128.33px">11 44</span>
<span class="c11" style="left:310.71px;top:138.12px">11 49</span>
<span class="c11" style="left:310.71px;top:147.9px">11 53</span>
<span class="c11" style="left:310.71px;top:157.69px">12 00</span>
<span class="c15" style="left:347.47px;top:167.18px">...</span>
<span class="c15" style="left:347.47px;top:176.96px">...</span>
<span class="c15" style="left:347.47px;top:186.75px">...</span>
<span class="c15" style="left:347.47px;top:196.54px">...</span>
<span class="c15" style="left:347.47px;top:206.33px">...</span>
<span class="c15" style="left:347.47px;top:216.11px">...</span>
<span class="c15" style="left:347.47px;top:225.9px">...</span>
<span class="c15" style="left:347.47px;top:236.49px">...</span>
<span class="c15" style="left:347.47px;top:245.47px">...</span>
<span class="c15" style="left:347.47px;top:255.26px">...</span>
<span class="c15" style="left:347.47px;top:265.05px">...</span>
<span class="c15" style="left:347.47px;top:274.83px">...</span>
<span class="c15" style="left:347.47px;top:284.62px">...</span>
<span class="c15" style="left:347.47px;top:294.41px">...</span>
<span class="c15" style="left:347.47px;top:304.2px">...</span>
<span class="c15" style="left:347.47px;top:314.78px">...</span>
<span class="c13" style="left:375.56px;top:2.77px">MÁV</span>
<svg style="left:417.76px;top:10px" width="15.6" height="7.8" viewBox="0 0 15.6 7.8"><rect width="15.6" height="7.8" rx="1.5" fill="#383838"/><g transform="skewX(-12)" fill="none" stroke="#fff"><path d="M9.6 2.55 C8.9 1.3 6.2 1.45 6.3 2.9 C6.4 4.3 9.7 3.6 9.7 5.1 C9.7 6.6 6.6 6.6 6.0 5.2" stroke-width="1.15"/><path d="M10.9 4.3 L11.9 3.6 V6.3" stroke-width="0.8"/></g></svg>
<span class="c14" style="left:375.76px;top:29.18px">38345</span>
<span class="c15" style="left:376.16px;top:88.88px">...</span>
<span class="c15" style="left:376.16px;top:98.67px">...</span>
<span class="c15" style="left:376.16px;top:108.46px">...</span>
<span class="c15" style="left:376.16px;top:118.24px">...</span>
<span class="c15" style="left:376.16px;top:128.03px">...</span>
<span class="c15" style="left:376.16px;top:137.82px">...</span>
<span class="c15" style="left:376.16px;top:147.6px">...</span>
<span class="c15" style="left:376.16px;top:158.19px">...</span>
<span class="c15" style="left:376.16px;top:167.18px">...</span>
<span class="c15" style="left:376.16px;top:176.96px">...</span>
<span class="c15" style="left:376.16px;top:186.75px">...</span>
<span class="c15" style="left:376.16px;top:196.54px">...</span>
<span class="c15" style="left:376.16px;top:206.33px">...</span>
<span class="c15" style="left:376.16px;top:216.11px">...</span>
<span class="c11" style="left:339.4px;top:226.2px">11 40</span>
<span class="c11" style="left:339.4px;top:235.99px">12 00</span>
<span class="c11" style="left:339.4px;top:245.77px">12 00</span>
<span class="c11" style="left:339.4px;top:255.56px">12 09</span>
<span class="c11" style="left:339.4px;top:265.35px">12 14</span>
<span class="c11" style="left:339.4px;top:275.13px">12 17</span>
<span class="c11" style="left:339.4px;top:284.92px">12 21</span>
<span class="c11" style="left:339.4px;top:294.71px">12 26</span>
<span class="c11" style="left:339.4px;top:304.5px">12 34</span>
<span class="c11" style="left:339.4px;top:314.28px">12 39</span>
<span class="c13" style="left:404.25px;top:2.77px">MÁV</span>
<svg style="left:446.44px;top:10px" width="15.6" height="7.8" viewBox="0 0 15.6 7.8"><rect width="15.6" height="7.8" rx="1.5" fill="#383838"/><g transform="skewX(-12)" fill="none" stroke="#fff"><path d="M9.6 2.55 C8.9 1.3 6.2 1.45 6.3 2.9 C6.4 4.3 9.7 3.6 9.7 5.1 C9.7 6.6 6.6 6.6 6.0 5.2" stroke-width="1.15"/><path d="M10.9 4.3 L11.9 3.6 V6.3" stroke-width="0.8"/></g></svg>
<span class="c14" style="left:404.44px;top:29.18px">38343</span>
<span class="c15" style="left:404.85px;top:88.88px">...</span>
<span class="c15" style="left:404.85px;top:98.67px">...</span>
<span class="c15" style="left:404.85px;top:108.46px">...</span>
<span class="c15" style="left:404.85px;top:118.24px">...</span>
<span class="c15" style="left:404.85px;top:128.03px">...</span>
<span class="c15" style="left:404.85px;top:137.82px">...</span>
<span class="c15" style="left:404.85px;top:147.6px">...</span>
<span class="c15" style="left:404.85px;top:158.19px">...</span>
<span class="c15" style="left:404.85px;top:167.18px">...</span>
<span class="c15" style="left:404.85px;top:176.96px">...</span>
<span class="c15" style="left:404.85px;top:186.75px">...</span>
<span class="c15" style="left:404.85px;top:196.54px">...</span>
<span class="c15" style="left:404.85px;top:206.33px">...</span>
<span class="c15" style="left:404.85px;top:216.11px">...</span>
<span class="c11" style="left:368.09px;top:226.2px">15 40</span>
<span class="c11" style="left:368.09px;top:235.99px">16 00</span>
<span class="c11" style="left:368.09px;top:245.77px">16 00</span>
<span class="c11" style="left:368.09px;top:255.56px">16 09</span>
<span class="c11" style="left:368.09px;top:265.35px">16 14</span>
<span class="c11" style="left:368.09px;top:275.13px">16 17</span>
<span class="c11" style="left:368.09px;top:284.92px">16 21</span>
<span class="c11" style="left:368.09px;top:294.71px">16 26</span>
<span class="c11" style="left:368.09px;top:304.5px">16 34</span>
<span class="c11" style="left:368.09px;top:314.28px">16 39</span>
<span class="c13" style="left:432.94px;top:2.77px">MÁV</span>
<svg style="left:475.14px;top:10px" width="15.6" height="7.8" viewBox="0 0 15.6 7.8"><rect width="15.6" height="7.8" rx="1.5" fill="#383838"/><g transform="skewX(-12)" fill="none" stroke="#fff"><path d="M9.6 2.55 C8.9 1.3 6.2 1.45 6.3 2.9 C6.4 4.3 9.7 3.6 9.7 5.1 C9.7 6.6 6.6 6.6 6.0 5.2" stroke-width="1.15"/><path d="M10.9 4.3 L11.9 3.6 V6.3" stroke-width="0.8"/></g></svg>
<span class="c14" style="left:433.14px;top:29.18px">38313</span>
<span class="c11" style="left:396.78px;top:89.18px">14 28</span>
<span class="c11" style="left:396.78px;top:98.97px">14 33</span>
<span class="c11" style="left:396.78px;top:108.76px">14 43</span>
<span class="c11" style="left:396.78px;top:118.54px">14 50</span>
<span class="c11" style="left:396.78px;top:128.33px">15 02</span>
<span class="c11" style="left:396.78px;top:138.12px">15 07</span>
<span class="c11" style="left:396.78px;top:147.9px">15 11</span>
<span class="c11" style="left:396.78px;top:157.69px">15 18</span>
<span class="c11" style="left:396.78px;top:167.48px">15 24</span>
<span class="c11" style="left:396.78px;top:177.26px">15 36</span>
<span class="c11" style="left:396.78px;top:187.05px">15 49</span>
<span class="c11" style="left:396.78px;top:196.84px">16 07</span>
<span class="c11" style="left:396.78px;top:206.63px">16 15</span>
<span class="c11" style="left:396.78px;top:216.41px">16 24</span>
<span class="c11" style="left:396.78px;top:226.2px">16 36</span>
<span class="c11" style="left:396.78px;top:235.99px">16 56</span>
<span class="c11" style="left:396.78px;top:245.77px">16 56</span>
<span class="c11" style="left:396.78px;top:255.56px">17 19</span>
<span class="c11" style="left:396.78px;top:265.35px">17 24</span>
<span class="c11" style="left:396.78px;top:275.13px">17 27</span>
<span class="c11" style="left:396.78px;top:284.92px">17 31</span>
<span class="c11" style="left:396.78px;top:294.71px">17 36</span>
<span class="c11" style="left:396.78px;top:304.5px">17 44</span>
<span class="c11" style="left:396.78px;top:314.28px">17 49</span>
<span class="c15" style="left:462.23px;top:88.88px">...</span>
<span class="c15" style="left:462.23px;top:98.67px">...</span>
<span class="c15" style="left:462.23px;top:108.46px">...</span>
<span class="c15" style="left:462.23px;top:118.24px">...</span>
<span class="c15" style="left:462.23px;top:128.03px">...</span>
<span class="c15" style="left:462.23px;top:137.82px">...</span>
<span class="c15" style="left:462.23px;top:147.6px">...</span>
<span class="c15" style="left:462.23px;top:158.19px">...</span>
<span class="c15" style="left:462.23px;top:167.18px">...</span>
<span class="c15" style="left:462.23px;top:176.96px">...</span>
<span class="c15" style="left:462.23px;top:186.75px">...</span>
<span class="c15" style="left:462.23px;top:196.54px">...</span>
<span class="c15" style="left:462.23px;top:206.33px">...</span>
<span class="c15" style="left:462.23px;top:216.11px">...</span>
<span class="c15" style="left:462.23px;top:225.9px">...</span>
<span class="c15" style="left:462.23px;top:236.49px">...</span>
<span class="c15" style="left:462.23px;top:245.47px">...</span>
<span class="c15" style="left:462.23px;top:255.26px">...</span>
<span class="c15" style="left:462.23px;top:265.05px">...</span>
<span class="c15" style="left:462.23px;top:274.83px">...</span>
<span class="c15" style="left:462.23px;top:284.62px">...</span>
<span class="c15" style="left:462.23px;top:294.41px">...</span>
<span class="c15" style="left:462.23px;top:304.2px">...</span>
<span class="c15" style="left:462.23px;top:314.78px">...</span>
<span class="c13" style="left:490.32px;top:2.77px">MÁV</span>
<svg style="left:532.52px;top:10px" width="15.6" height="7.8" viewBox="0 0 15.6 7.8"><rect width="15.6" height="7.8" rx="1.5" fill="#383838"/><g transform="skewX(-12)" fill="none" stroke="#fff"><path d="M9.6 2.55 C8.9 1.3 6.2 1.45 6.3 2.9 C6.4 4.3 9.7 3.6 9.7 5.1 C9.7 6.6 6.6 6.6 6.0 5.2" stroke-width="1.15"/><path d="M10.9 4.3 L11.9 3.6 V6.3" stroke-width="0.8"/></g></svg>
<span class="c14" style="left:490.52px;top:29.18px">38323</span>
<span class="c11" style="left:454.16px;top:89.18px">17 53</span>
<span class="c11" style="left:454.16px;top:98.97px">17 58</span>
<span class="c11" style="left:454.16px;top:108.76px">18 08</span>
<span class="c11" style="left:454.16px;top:118.54px">18 15</span>
<span class="c11" style="left:454.16px;top:128.33px">18 27</span>
<span class="c11" style="left:454.16px;top:138.12px">18 32</span>
<span class="c11" style="left:454.16px;top:147.9px">18 36</span>
<span class="c11" style="left:454.16px;top:157.69px">18 43</span>
<span class="c11" style="left:454.16px;top:167.48px">19 08</span>
<span class="c11" style="left:454.16px;top:177.26px">19 20</span>
<span class="c11" style="left:454.16px;top:187.05px">19 33</span>
<span class="c11" style="left:454.16px;top:196.84px">19 51</span>
<span class="c11" style="left:454.16px;top:206.63px">19 59</span>
<span class="c11" style="left:454.16px;top:216.41px">20 08</span>
<span class="c11" style="left:454.16px;top:226.2px">20 20</span>
<span class="c11" style="left:454.16px;top:235.99px">20 40</span>
<span class="c11" style="left:454.16px;top:245.77px">20 40</span>
<span class="c11" style="left:454.16px;top:255.56px">20 49</span>
<span class="c11" style="left:454.16px;top:265.35px">20 54</span>
<span class="c11" style="left:454.16px;top:275.13px">20 57</span>
<span class="c11" style="left:454.16px;top:284.92px">21 01</span>
<span class="c11" style="left:454.16px;top:294.71px">21 06</span>
<span class="c11" style="left:454.16px;top:304.5px">21 14</span>
<span class="c11" style="left:454.16px;top:314.28px">21 19</span>
<span class="c15" style="left:519.61px;top:88.88px">...</span>
<span class="c15" style="left:519.61px;top:98.67px">...</span>
<span class="c15" style="left:519.61px;top:108.46px">...</span>
<span class="c15" style="left:519.61px;top:118.24px">...</span>
<span class="c15" style="left:519.61px;top:128.03px">...</span>
<span class="c15" style="left:519.61px;top:137.82px">...</span>
<span class="c15" style="left:519.61px;top:147.6px">...</span>
<span class="c15" style="left:519.61px;top:158.19px">...</span>
<span class="c15" style="left:519.61px;top:167.18px">...</span>
<span class="c15" style="left:519.61px;top:176.96px">...</span>
<span class="c15" style="left:519.61px;top:186.75px">...</span>
<span class="c15" style="left:519.61px;top:196.54px">...</span>
<span class="c15" style="left:519.61px;top:206.33px">...</span>
<span class="c15" style="left:519.61px;top:216.11px">...</span>
<span class="c15" style="left:519.61px;top:225.9px">...</span>
<span class="c15" style="left:519.61px;top:236.49px">...</span>
<span class="c15" style="left:519.61px;top:245.47px">...</span>
<span class="c15" style="left:519.61px;top:255.26px">...</span>
<span class="c15" style="left:519.61px;top:265.05px">...</span>
<span class="c15" style="left:519.61px;top:274.83px">...</span>
<span class="c15" style="left:519.61px;top:284.62px">...</span>
<span class="c15" style="left:519.61px;top:294.41px">...</span>
<span class="c15" style="left:519.61px;top:304.2px">...</span>
<span class="c15" style="left:519.61px;top:314.78px">...</span>
<span class="c13" style="left:547.69px;top:2.77px">MÁV</span>
<svg style="left:589.69px;top:9.4px" width="16" height="9" viewBox="0 0 16 9"><g fill="#5a5a5a"><rect x="0.5" y="0.55" width="1.4" height="0.9"/><rect x="4.7" y="0.55" width="1.4" height="0.9"/><rect x="9.6" y="0.55" width="1.4" height="0.9"/><rect x="14.1" y="0.55" width="1.4" height="0.9"/><rect x="0.5" y="7.75" width="1.4" height="0.9"/><rect x="4.7" y="7.75" width="1.4" height="0.9"/><rect x="9.6" y="7.75" width="1.4" height="0.9"/><rect x="14.1" y="7.75" width="1.4" height="0.9"/></g><rect x="2.3" y="1.8" width="10.9" height="2.6" rx="0.9" fill="#8c8c8c"/><rect x="3.6" y="2.5" width="1.6" height="1.2" fill="#e4e4e4"/><rect x="9.0" y="2.5" width="2.6" height="1.2" fill="#d8d8d8"/><rect x="2.1" y="4.2" width="11.5" height="2.2" rx="1.0" fill="#383838"/></svg>
<svg style="left:593.54px;top:58.35px" width="8.9" height="8.9" viewBox="0 0 8.4 8.4"><circle cx="4.2" cy="4.2" r="3.7" fill="none" stroke="#808080" stroke-width="0.6"/><path d="M3.1 2.0 L3.3 4.6 L5.2 4.6 L6.1 6.3 M3.3 3.3 L5 3.3" fill="none" stroke="#6a6a6a" stroke-width="0.8"/><path d="M2.9 3.9 A1.9 1.9 0 1 0 5.4 6.0" fill="none" stroke="#6a6a6a" stroke-width="0.7"/></svg>
<span class="c14" style="left:547.89px;top:29.18px">38341</span>
<span class="c11" style="left:510.44px;top:89.18px">21 10</span>
<span class="c11" style="left:510.44px;top:98.97px">21 15</span>
<span class="c11" style="left:510.44px;top:108.76px">21 25</span>
<span class="c11" style="left:510.44px;top:118.54px">21 32</span>
<span class="c11" style="left:510.44px;top:128.33px">21 44</span>
<span class="c11" style="left:510.44px;top:138.12px">21 49</span>
<span class="c11" style="left:510.44px;top:147.9px">21 53</span>
<span class="c11" style="left:510.44px;top:157.69px">22 00</span>
<span class="c15" style="left:548.29px;top:167.18px">...</span>
<span class="c15" style="left:548.29px;top:176.96px">...</span>
<span class="c15" style="left:548.29px;top:186.75px">...</span>
<span class="c15" style="left:548.29px;top:196.54px">...</span>
<span class="c15" style="left:548.29px;top:206.33px">...</span>
<span class="c15" style="left:548.29px;top:216.11px">...</span>
<span class="c15" style="left:548.29px;top:225.9px">...</span>
<span class="c15" style="left:548.29px;top:236.49px">...</span>
<span class="c15" style="left:548.29px;top:245.47px">...</span>
<span class="c15" style="left:548.29px;top:255.26px">...</span>
<span class="c15" style="left:548.29px;top:265.05px">...</span>
<span class="c15" style="left:548.29px;top:274.83px">...</span>
<span class="c15" style="left:548.29px;top:284.62px">...</span>
<span class="c15" style="left:548.29px;top:294.41px">...</span>
<span class="c15" style="left:548.29px;top:304.2px">...</span>
<span class="c15" style="left:548.29px;top:314.78px">...</span>
<span class="c16" style="left:3px;top:33.68px">km</span>
<span class="c17" style="left:-253.3px;top:80.67px">Kindulási állomás</span>
<span class="c18" style="left:46.4px;top:325.82px">Végállomás</span>
<div class="c19" style="left:0px;top:-0.5px;width:153px;height:1px"></div>
<div class="c20" style="left:152.2px;top:-1.25px;width:459.8px;height:1.8px"></div>
<div class="c19" style="left:0px;top:77.9px;width:612px;height:1px"></div>
<div class="c19" style="left:0px;top:88.9px;width:612px;height:1px"></div>
<div class="c19" style="left:0px;top:166.96px;width:612px;height:1px"></div>
<div class="c19" style="left:0px;top:245.25px;width:612px;height:1px"></div>
<div class="c19" style="left:0px;top:323.55px;width:612px;height:1px"></div>
<div class="c19" style="left:0px;top:334.9px;width:153px;height:1px"></div>
<div class="c20" style="left:152.2px;top:333.7px;width:459.8px;height:2.2px"></div>
<div class="c19" style="left:14.85px;top:0px;width:1.1px;height:335.4px"></div>
<div class="c20" style="left:152.2px;top:0px;width:1.6px;height:335.4px"></div>
<div class="c19" style="left:181.19px;top:0px;width:1px;height:335.4px"></div>
<div class="c19" style="left:209.88px;top:0px;width:1px;height:335.4px"></div>
<div class="c19" style="left:238.57px;top:0px;width:1px;height:335.4px"></div>
<div class="c19" style="left:267.26px;top:0px;width:1px;height:335.4px"></div>
<div class="c19" style="left:295.95px;top:0px;width:1px;height:335.4px"></div>
<div class="c19" style="left:324.64px;top:0px;width:1px;height:335.4px"></div>
<div class="c19" style="left:353.33px;top:0px;width:1px;height:335.4px"></div>
<div class="c19" style="left:382.02px;top:0px;width:1px;height:335.4px"></div>
<div class="c19" style="left:410.71px;top:0px;width:1px;height:335.4px"></div>
<div class="c19" style="left:439.4px;top:0px;width:1px;height:335.4px"></div>
<div class="c19" style="left:468.09px;top:0px;width:1px;height:335.4px"></div>
<div class="c19" style="left:496.78px;top:0px;width:1px;height:335.4px"></div>
<div class="c19" style="left:525.47px;top:0px;width:1px;height:335.4px"></div>
<div class="c19" style="left:554.16px;top:0px;width:1px;height:335.4px"></div>
<div class="c19" style="left:582.85px;top:0px;width:1px;height:335.4px"></div>
</div>
<div class="sec" style="width:672.4px;height:50px;transform:matrix(0.9998513,-0.01174896,0.01,1,35.2,970.9)">
<div class="c21" style="left:0px;top:-0.85px;width:672.4px;height:1.7px"></div>
<span class="c22" style="left:25.6px;top:12.53px">MÁV</span>
<span class="c23" style="left:136.2px;top:12.53px">CSOPORT</span>
<svg style="position:absolute;left:92.60px;top:13.70px" width="40" height="22" viewBox="-20 -11 40 22"><circle cx="0" cy="0" r="7.9" fill="none" stroke="#31424c" stroke-width="3.0"/><path d="M-1.2 -3.9 A3.9 3.9 0 1 1 -1.2 3.9" fill="none" stroke="#31424c" stroke-width="2.0"/><g fill="#31424c"><path d="M-17.5 -4.9 H-1 V-2.9 H-16.8 Z"/><path d="M-15.6 -1.05 H2.5 V1.05 H-14.9 Z"/><path d="M-13.6 2.9 H-1 V4.9 H-12.9 Z"/><path d="M9.8 -4.9 H17.6 L16.9 -2.9 H9.8 Z"/><path d="M10.6 -1.05 H16.2 L15.5 1.05 H10.6 Z"/><path d="M9.8 2.9 H14.8 L14.1 4.9 H9.8 Z"/></g><g fill="#fff"><rect x="-9" y="-2.9" width="9.5" height="1.85"/><rect x="-9" y="1.05" width="9.5" height="1.85"/></g></svg>
<span class="c24" style="left:248.9px;top:10.43px">mavcsoport.hu | info@mavcsoport.hu</span>
<span class="c25" style="left:248.9px;top:24.96px">+36 (1) 3 49 49 49 | +36 (20/30/70) 499 4999</span>
</div>
</body></html>
